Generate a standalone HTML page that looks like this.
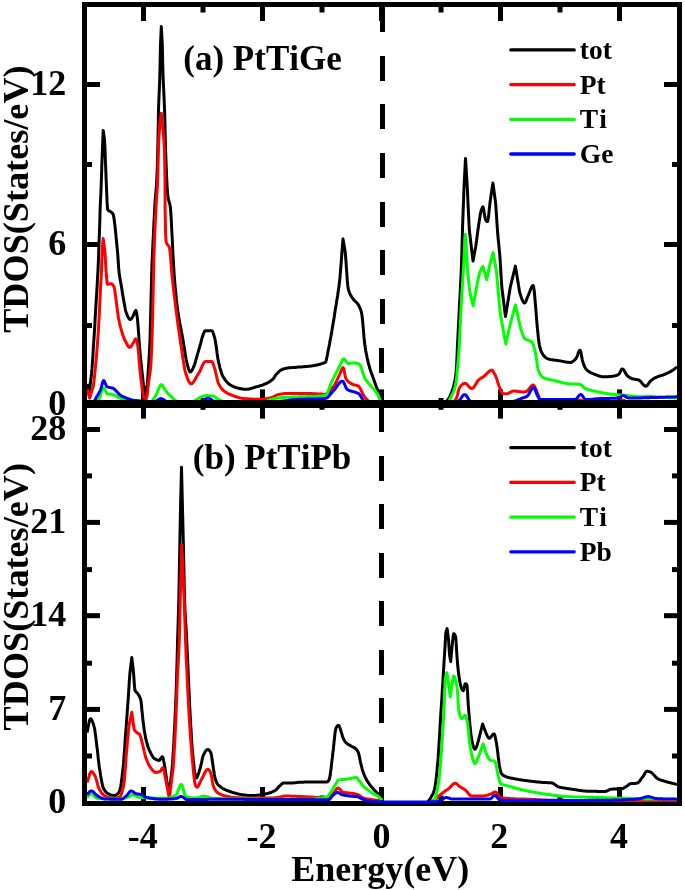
<!DOCTYPE html>
<html><head><meta charset="utf-8"><style>html,body{margin:0;padding:0;background:#fff;overflow:hidden;width:685px;height:890px;}svg{display:block;will-change:transform;}</style></head>
<body><svg width="685" height="890" viewBox="0 0 685 890">
<rect width="685" height="890" fill="#fff"/>
<defs><clipPath id="ca"><rect x="87" y="7" width="590" height="395"/></clipPath><clipPath id="cb"><rect x="87" y="405" width="590" height="401"/></clipPath></defs>
<rect x="141.0" y="7" width="5.00" height="14.00" fill="#000"/>
<rect x="141.0" y="389.4" width="5.00" height="12.60" fill="#000"/>
<rect x="200.5" y="7" width="5.00" height="5.50" fill="#000"/>
<rect x="200.5" y="398" width="5.00" height="4.00" fill="#000"/>
<rect x="260.0" y="7" width="5.00" height="14.00" fill="#000"/>
<rect x="260.0" y="389.4" width="5.00" height="12.60" fill="#000"/>
<rect x="319.5" y="7" width="5.00" height="5.50" fill="#000"/>
<rect x="319.5" y="398" width="5.00" height="4.00" fill="#000"/>
<rect x="379.0" y="7" width="5.00" height="14.00" fill="#000"/>
<rect x="379.0" y="389.4" width="5.00" height="12.60" fill="#000"/>
<rect x="438.5" y="7" width="5.00" height="5.50" fill="#000"/>
<rect x="438.5" y="398" width="5.00" height="4.00" fill="#000"/>
<rect x="498.0" y="7" width="5.00" height="14.00" fill="#000"/>
<rect x="498.0" y="389.4" width="5.00" height="12.60" fill="#000"/>
<rect x="557.5" y="7" width="5.00" height="5.50" fill="#000"/>
<rect x="557.5" y="398" width="5.00" height="4.00" fill="#000"/>
<rect x="617.0" y="7" width="5.00" height="14.00" fill="#000"/>
<rect x="617.0" y="389.4" width="5.00" height="12.60" fill="#000"/>
<rect x="87" y="323.0" width="5.00" height="5.00" fill="#000"/>
<rect x="672" y="323.0" width="5.00" height="5.00" fill="#000"/>
<rect x="87" y="242.0" width="13.00" height="5.00" fill="#000"/>
<rect x="664" y="242.0" width="13.00" height="5.00" fill="#000"/>
<rect x="87" y="162.0" width="5.00" height="5.00" fill="#000"/>
<rect x="672" y="162.0" width="5.00" height="5.00" fill="#000"/>
<rect x="87" y="82.0" width="13.00" height="5.00" fill="#000"/>
<rect x="664" y="82.0" width="13.00" height="5.00" fill="#000"/>
<rect x="380" y="7" width="5.00" height="25.00" fill="#000"/>
<rect x="380" y="56" width="5.00" height="25.00" fill="#000"/>
<rect x="380" y="104" width="5.00" height="25.00" fill="#000"/>
<rect x="380" y="153" width="5.00" height="25.00" fill="#000"/>
<rect x="380" y="202" width="5.00" height="25.00" fill="#000"/>
<rect x="380" y="250" width="5.00" height="25.00" fill="#000"/>
<rect x="380" y="299" width="5.00" height="25.00" fill="#000"/>
<rect x="379" y="348" width="5.00" height="25.00" fill="#000"/>
<rect x="379" y="396" width="5.00" height="6.00" fill="#000"/>
<polyline points="87.0,384.0 89.3,392.0 91.5,374.0 92.0,368.7 92.4,362.6 92.9,355.8 93.3,348.7 93.8,341.6 94.3,333.9 94.8,325.8 95.2,317.5 95.7,309.1 96.2,300.8 96.7,293.4 97.1,286.3 97.5,278.7 98.0,270.0 98.5,259.0 98.9,246.3 99.4,233.0 99.8,221.7 100.1,209.9 100.5,200.0 101.0,190.8 101.5,176.0 102.0,160.0 103.2,130.4 104.5,140.0 104.9,146.5 105.2,155.9 105.6,165.5 106.1,178.5 106.6,190.8 107.1,202.6 107.6,209.4 108.0,210.1 108.5,210.5 108.9,210.8 109.4,211.0 109.8,211.2 110.3,211.5 110.7,211.8 111.2,212.2 111.7,212.5 112.1,212.9 112.6,213.5 113.1,214.2 113.5,215.5 113.9,217.8 114.3,220.6 114.7,223.6 115.1,227.0 115.5,230.9 115.9,235.2 116.3,239.4 116.8,244.3 117.3,249.4 117.8,255.1 118.3,262.9 118.8,270.0 119.3,274.0 119.8,277.2 120.2,279.9 120.7,282.4 121.2,285.2 121.7,288.3 122.2,291.4 122.7,294.5 123.2,297.5 123.7,300.3 124.2,303.1 124.7,305.9 125.2,308.6 125.7,310.8 126.2,312.5 126.7,313.7 127.1,314.8 127.6,315.9 128.0,316.9 128.5,317.8 128.9,318.5 129.4,319.0 129.8,319.4 130.3,319.5 130.8,319.3 131.3,318.8 131.8,318.1 132.3,317.3 132.8,316.4 133.3,315.5 133.8,314.5 134.3,313.1 134.8,311.8 135.3,310.8 135.8,310.4 136.2,311.1 136.6,313.0 137.0,315.6 137.4,318.5 137.9,323.9 138.4,330.7 138.9,337.5 139.4,344.5 139.9,350.9 140.4,356.0 140.8,360.6 141.3,365.0 141.8,369.3 142.2,373.6 142.7,377.7 143.1,381.6 143.6,385.0 145.5,396.0 147.2,385.0 147.7,379.6 148.1,372.5 148.6,365.0 149.1,357.8 149.5,350.1 150.0,340.0 150.5,321.5 151.0,300.0 151.4,286.2 151.7,273.1 152.1,262.0 152.6,251.1 153.0,242.0 153.5,232.8 153.9,223.4 154.4,214.1 154.8,205.9 155.2,199.8 155.6,194.8 156.1,190.1 156.5,184.5 156.9,177.2 157.3,167.9 157.6,155.3 158.0,140.0 158.5,110.0 158.9,99.1 159.3,90.0 159.7,79.9 160.0,68.0 160.5,45.0 161.3,26.5 162.3,45.0 162.8,68.0 163.2,80.0 163.7,90.0 164.2,101.1 164.7,114.0 165.0,126.7 165.3,140.0 165.7,153.0 166.1,163.7 166.5,173.8 166.9,183.2 167.4,190.8 167.8,195.8 168.2,198.5 168.7,200.4 169.1,201.7 169.5,203.1 170.0,204.9 170.4,207.6 170.8,212.1 171.2,219.0 171.6,226.9 172.0,234.6 172.5,243.7 172.9,253.3 173.4,262.0 173.8,268.5 174.2,274.5 174.6,280.0 175.0,285.0 175.5,290.4 176.0,295.4 176.4,300.0 176.9,304.2 177.4,308.0 177.9,311.4 178.4,314.6 178.8,317.5 179.3,320.3 179.8,323.0 180.3,325.5 180.8,328.0 181.3,330.5 181.7,333.0 182.2,335.6 182.7,338.3 183.2,341.3 183.7,344.4 184.2,347.6 184.7,350.8 185.2,354.0 185.7,356.9 186.2,359.6 186.7,362.0 187.2,364.0 187.6,365.6 188.1,367.2 188.5,368.7 189.0,370.0 189.4,371.0 189.9,371.7 190.3,372.0 190.8,371.9 191.2,371.4 191.7,370.8 192.2,370.0 192.6,369.1 193.1,368.1 193.5,367.0 194.0,366.0 194.5,364.7 195.0,363.2 195.5,361.4 196.0,359.6 196.5,357.8 197.0,356.0 197.5,354.3 198.0,352.6 198.5,350.9 199.0,349.2 199.5,347.5 200.0,345.7 200.5,344.0 201.0,342.1 201.5,340.2 202.0,338.2 202.5,336.5 203.0,335.0 203.4,333.8 203.9,332.7 204.3,331.7 204.8,331.0 205.2,330.7 205.7,330.7 206.1,330.7 206.6,330.7 207.1,330.7 207.6,330.7 208.0,330.7 208.5,330.7 209.0,330.7 209.4,330.7 209.9,330.7 210.4,330.7 210.9,330.7 211.3,330.7 211.8,330.7 212.3,331.0 212.8,331.8 213.2,333.1 213.7,334.6 214.2,336.3 214.7,338.0 215.2,340.0 215.6,342.7 216.1,345.8 216.6,349.2 217.0,352.7 217.5,356.0 217.9,358.9 218.4,361.3 218.9,363.4 219.4,365.4 219.8,367.3 220.3,369.1 220.8,370.8 221.3,372.3 221.7,373.7 222.2,374.9 222.7,375.9 223.2,376.8 223.7,377.6 224.2,378.4 224.6,379.1 225.1,379.9 225.6,380.5 226.1,381.1 226.6,381.7 227.1,382.3 227.6,382.8 228.1,383.2 228.5,383.6 229.0,384.0 229.5,384.4 230.0,384.7 230.5,385.0 231.0,385.3 231.5,385.6 232.0,385.8 232.4,386.1 232.9,386.3 233.4,386.5 233.9,386.8 234.4,387.0 234.9,387.2 235.4,387.3 235.9,387.5 236.4,387.7 236.8,387.8 237.3,388.0 237.8,388.1 238.3,388.2 238.8,388.3 239.3,388.4 239.8,388.5 240.3,388.6 240.7,388.7 241.2,388.8 241.7,388.9 242.2,388.9 242.7,389.0 243.2,389.1 243.7,389.2 244.2,389.2 244.6,389.2 245.1,389.3 245.6,389.3 246.1,389.3 246.6,389.3 247.1,389.3 247.6,389.2 248.0,389.2 248.5,389.1 249.0,389.0 249.5,388.9 250.0,388.8 250.5,388.7 251.0,388.5 251.4,388.4 251.9,388.2 252.4,388.1 252.9,387.9 253.4,387.8 253.9,387.6 254.4,387.5 254.8,387.3 255.3,387.2 255.8,387.0 256.3,386.9 256.8,386.8 257.3,386.6 257.8,386.5 258.2,386.4 258.7,386.2 259.2,386.1 259.7,385.9 260.2,385.8 260.6,385.6 261.1,385.5 261.6,385.3 262.1,385.1 262.6,385.0 263.1,384.8 263.6,384.6 264.0,384.4 264.5,384.2 265.0,384.0 265.5,383.8 266.0,383.6 266.5,383.3 267.0,383.1 267.5,382.9 268.0,382.6 268.5,382.3 268.9,382.0 269.4,381.8 269.9,381.4 270.4,381.1 270.9,380.8 271.4,380.4 271.9,380.0 272.4,379.6 272.9,379.1 273.4,378.5 273.9,377.9 274.4,377.1 274.8,376.4 275.3,375.6 275.8,374.9 276.3,374.3 276.8,373.7 277.3,373.2 277.8,372.7 278.2,372.2 278.7,371.8 279.2,371.3 279.7,370.9 280.1,370.6 280.6,370.2 281.1,370.0 281.6,369.8 282.1,369.6 282.6,369.4 283.0,369.2 283.5,369.0 284.0,368.9 284.5,368.7 285.0,368.6 285.5,368.4 286.0,368.3 286.5,368.2 286.9,368.1 287.4,368.0 287.9,368.0 288.4,367.9 288.9,367.8 289.3,367.8 289.8,367.8 290.3,367.7 290.8,367.7 291.2,367.7 291.7,367.6 292.2,367.6 292.6,367.6 293.1,367.5 293.6,367.5 294.1,367.5 294.5,367.4 295.0,367.4 295.5,367.4 296.0,367.3 296.5,367.3 297.0,367.2 297.5,367.2 298.0,367.1 298.5,367.1 299.0,367.1 299.5,367.0 300.0,367.0 300.5,367.0 301.0,366.9 301.5,366.9 302.0,366.9 302.5,366.8 302.9,366.8 303.4,366.7 303.9,366.7 304.4,366.7 304.9,366.6 305.4,366.6 305.9,366.6 306.4,366.5 306.9,366.5 307.4,366.4 307.9,366.4 308.4,366.3 308.9,366.3 309.4,366.2 309.9,366.2 310.4,366.1 310.9,366.0 311.4,366.0 311.9,365.9 312.4,365.8 312.9,365.8 313.4,365.7 313.9,365.6 314.4,365.5 314.9,365.4 315.4,365.3 315.9,365.3 316.4,365.2 316.9,365.0 317.4,364.9 317.8,364.8 318.3,364.7 318.8,364.6 319.3,364.4 319.8,364.3 320.3,364.2 320.8,364.0 321.3,363.9 321.8,363.7 322.3,363.5 322.8,363.4 323.3,363.2 323.8,363.0 324.3,362.8 324.8,362.6 325.3,362.4 325.8,361.8 326.2,360.4 326.7,358.5 327.1,356.2 327.6,353.7 328.0,351.2 328.5,348.9 329.0,346.6 329.5,344.1 329.9,341.6 330.4,339.1 330.9,336.4 331.4,333.7 331.9,330.9 332.3,328.1 332.8,325.2 333.3,322.3 333.8,319.4 334.3,316.4 334.7,313.4 335.2,310.3 335.7,307.3 336.2,304.4 336.6,301.5 337.1,298.7 337.6,295.8 338.0,292.8 338.5,289.6 339.0,286.1 339.4,282.3 339.9,278.2 340.3,273.7 340.7,268.4 341.2,262.6 341.6,256.7 342.0,251.2 343.0,239.1 345.1,251.2 345.5,255.5 346.0,261.4 346.4,268.0 346.9,274.7 347.3,280.8 347.8,285.7 348.2,288.6 348.7,290.3 349.1,291.7 349.6,293.0 350.1,294.1 350.5,295.0 351.0,295.8 351.5,296.6 351.9,297.3 352.4,298.0 352.9,298.7 353.4,299.3 353.8,299.9 354.3,300.4 354.8,300.8 355.3,301.3 355.7,301.7 356.2,302.2 356.7,302.7 357.2,303.2 357.6,303.8 358.1,304.4 358.6,305.2 359.0,306.0 359.5,306.9 359.9,307.9 360.4,309.0 360.8,310.3 361.3,311.8 361.7,313.6 362.1,316.3 362.6,320.5 363.0,325.5 363.5,330.9 363.9,336.3 364.4,341.0 364.8,344.7 365.3,347.7 365.7,350.5 366.2,353.1 366.7,355.5 367.1,357.8 367.6,359.9 368.1,361.9 368.5,363.7 369.0,365.5 369.5,367.2 369.9,368.7 370.4,370.2 370.9,371.5 371.3,372.8 371.8,374.1 372.3,375.4 372.7,376.7 373.2,378.0 373.7,379.3 374.1,380.7 374.6,381.9 375.1,383.2 375.6,384.5 376.0,385.7 376.5,387.0 377.0,388.3 377.5,389.7 377.9,391.1 378.4,392.6 378.8,394.0 379.3,395.6 379.7,397.2 380.1,398.8 380.6,400.4 381.0,402.0" fill="none" stroke="#000" stroke-width="3" stroke-linejoin="round" stroke-linecap="butt" clip-path="url(#ca)"/>
<polyline points="441.0,403.0 441.5,402.8 441.9,402.7 442.4,402.6 442.9,402.4 443.3,402.3 443.8,402.2 444.3,402.0 444.7,401.9 445.2,401.7 445.7,401.5 446.1,401.3 446.6,401.0 447.1,400.6 447.6,400.1 448.1,399.5 448.6,398.7 449.1,397.9 449.6,396.9 450.1,395.9 450.6,394.7 451.1,393.5 451.6,392.2 452.1,390.8 452.6,389.4 453.1,387.9 453.6,386.2 454.1,384.2 454.6,381.9 455.1,379.2 455.6,375.9 456.1,372.0 456.6,366.1 457.0,357.1 457.4,346.9 457.9,337.1 458.3,328.5 458.8,319.7 459.2,310.9 459.6,302.3 460.1,294.0 460.5,286.1 460.9,277.7 461.4,267.4 461.8,254.3 462.2,240.0 462.6,225.7 463.1,211.8 463.6,198.9 464.0,187.5 465.5,158.4 467.3,187.5 467.7,196.0 468.1,205.6 468.6,215.3 469.0,224.0 469.4,230.6 473.0,261.1 475.7,246.8 476.1,243.8 476.6,240.5 477.0,237.1 477.5,233.5 477.9,230.1 478.4,227.0 478.8,223.9 479.3,220.8 479.8,217.7 480.2,214.9 480.7,212.6 481.1,210.8 481.6,209.4 482.0,208.2 482.4,207.2 482.9,206.9 483.3,207.8 483.8,209.9 484.2,212.8 484.7,215.8 485.2,218.3 485.6,219.8 486.1,220.5 486.5,221.1 486.9,221.5 487.4,221.6 487.8,220.6 488.3,217.9 488.8,214.1 489.2,209.8 489.7,205.6 490.1,201.9 492.9,183.0 495.5,202.0 496.0,208.0 496.5,215.6 497.0,223.5 497.5,230.6 497.9,236.0 498.4,240.9 498.9,245.6 499.3,250.3 499.8,255.4 500.2,261.0 500.6,267.5 501.0,275.0 501.5,282.2 501.9,288.0 505.5,316.5 510.3,287.0 515.4,266.1 519.6,292.0 520.1,293.6 520.6,295.2 521.1,296.8 521.6,298.2 522.1,299.6 522.6,300.7 523.1,301.7 523.6,302.4 524.1,302.8 524.6,303.0 525.1,302.7 525.6,302.0 526.1,301.0 526.5,299.7 527.0,298.4 527.5,297.1 528.0,296.0 528.5,295.0 528.9,293.8 529.4,292.6 529.9,291.3 530.4,290.0 530.8,288.8 531.3,287.8 531.8,286.8 532.3,286.1 532.7,285.7 533.2,285.5 533.7,287.0 534.2,290.8 534.7,296.0 535.2,301.9 535.7,307.5 536.1,312.4 536.5,318.0 537.0,323.5 537.4,328.4 537.9,333.0 538.3,337.4 538.8,341.3 539.2,344.1 539.6,346.1 540.1,348.0 540.5,349.5 540.9,350.9 541.4,352.0 541.8,352.8 542.3,353.6 542.7,354.3 543.2,354.9 543.7,355.6 544.1,356.1 544.6,356.6 545.1,357.1 545.6,357.5 546.0,357.9 546.5,358.2 547.0,358.5 547.4,358.7 547.9,358.9 548.4,359.0 548.9,359.2 549.4,359.3 549.9,359.4 550.4,359.5 550.9,359.6 551.4,359.7 551.9,359.8 552.4,359.8 552.9,359.9 553.3,360.0 553.8,360.0 554.3,360.1 554.8,360.2 555.3,360.2 555.8,360.3 556.3,360.3 556.8,360.4 557.3,360.5 557.8,360.5 558.3,360.6 558.8,360.7 559.3,360.8 559.8,360.8 560.3,360.9 560.7,361.0 561.2,361.1 561.7,361.2 562.2,361.3 562.7,361.4 563.2,361.5 563.7,361.6 564.2,361.7 564.6,361.8 565.1,361.9 565.6,361.9 566.1,362.0 566.6,362.1 567.1,362.2 567.6,362.2 568.1,362.3 568.5,362.3 569.0,362.4 569.5,362.4 570.0,362.4 570.5,362.4 571.0,362.4 571.4,362.2 571.9,362.0 572.4,361.8 572.9,361.5 573.3,361.1 573.8,360.7 574.3,360.3 574.8,359.8 575.2,359.4 575.7,358.9 576.2,358.2 576.7,357.2 577.2,356.0 577.7,354.7 578.1,353.3 578.6,352.1 579.1,351.1 579.6,350.4 580.1,350.2 580.5,350.9 581.0,352.6 581.4,354.9 581.8,357.4 582.3,359.8 582.7,361.5 583.2,363.0 583.7,364.4 584.2,365.7 584.7,366.8 585.2,367.8 585.7,368.7 586.2,369.3 586.7,369.8 587.2,370.3 587.7,370.7 588.2,371.1 588.7,371.4 589.2,371.8 589.7,372.1 590.2,372.3 590.7,372.6 591.2,372.8 591.7,373.1 592.2,373.3 592.7,373.5 593.2,373.7 593.7,373.9 594.2,374.1 594.7,374.3 595.2,374.5 595.7,374.7 596.2,374.9 596.7,375.1 597.2,375.3 597.7,375.5 598.2,375.7 598.6,375.9 599.1,376.0 599.6,376.2 600.1,376.3 600.6,376.4 601.1,376.5 601.6,376.6 602.1,376.7 602.6,376.8 603.1,376.8 603.6,376.8 604.1,376.8 604.6,376.8 605.0,376.8 605.5,376.8 606.0,376.8 606.5,376.7 607.0,376.7 607.5,376.7 608.0,376.7 608.4,376.6 608.9,376.6 609.4,376.6 609.9,376.5 610.4,376.5 610.8,376.4 611.3,376.4 611.8,376.3 612.3,376.3 612.8,376.2 613.3,376.2 613.8,376.1 614.2,376.0 614.7,375.9 615.2,375.8 615.7,375.6 616.2,375.5 616.7,375.3 617.1,375.1 617.6,374.9 618.1,374.6 618.6,374.4 619.1,374.0 619.5,373.3 620.0,372.4 620.5,371.4 620.9,370.5 621.4,369.7 621.8,369.1 622.3,368.9 622.8,369.1 623.3,369.5 623.8,370.1 624.3,370.9 624.8,371.8 625.3,372.7 625.8,373.6 626.3,374.4 626.8,375.2 627.3,375.7 627.8,376.1 628.3,376.5 628.8,376.9 629.3,377.3 629.8,377.6 630.3,377.9 630.8,378.2 631.3,378.4 631.8,378.6 632.3,378.8 632.8,378.9 633.3,379.0 633.7,379.1 634.2,379.2 634.7,379.3 635.2,379.4 635.6,379.4 636.1,379.5 636.6,379.6 637.1,379.7 637.5,379.7 638.0,379.9 638.5,380.0 639.0,380.2 639.5,380.5 640.0,380.9 640.5,381.4 641.0,381.9 641.5,382.5 642.0,383.1 642.4,383.7 642.9,384.2 643.4,384.8 643.9,385.2 644.4,385.6 644.9,385.9 645.4,386.1 645.9,386.2 646.4,386.1 646.9,385.7 647.4,385.2 647.9,384.6 648.4,383.9 648.9,383.2 649.4,382.4 649.9,381.7 650.4,381.1 650.9,380.6 651.4,380.2 651.9,379.8 652.4,379.5 652.9,379.2 653.3,378.8 653.8,378.5 654.3,378.3 654.8,378.0 655.3,377.7 655.8,377.5 656.3,377.3 656.8,377.1 657.2,376.9 657.7,376.7 658.2,376.5 658.7,376.4 659.2,376.2 659.7,376.0 660.1,375.9 660.6,375.7 661.1,375.6 661.6,375.4 662.1,375.3 662.6,375.1 663.0,375.0 663.5,374.8 664.0,374.6 664.5,374.4 665.0,374.2 665.5,374.0 666.0,373.8 666.5,373.5 667.0,373.3 667.5,373.1 668.0,372.8 668.5,372.6 669.0,372.4 669.5,372.1 670.0,371.8 670.5,371.6 671.0,371.3 671.5,371.0 672.0,370.7 672.5,370.4 673.0,370.0 673.5,369.7 674.0,369.3 674.5,368.9 675.0,368.5 675.5,368.2 676.0,367.8 676.5,367.4 677.0,367.0" fill="none" stroke="#000" stroke-width="3" stroke-linejoin="round" stroke-linecap="butt" clip-path="url(#ca)"/>
<polyline points="87.0,389.0 89.7,398.0 93.0,387.2 93.5,384.6 93.9,381.4 94.4,377.6 94.8,373.3 95.3,368.7 95.7,363.9 96.2,359.0 96.7,353.4 97.2,347.2 97.7,340.5 98.2,333.2 98.7,325.3 99.1,317.9 99.5,309.6 99.9,300.9 100.3,292.6 100.7,284.7 101.2,277.1 101.6,268.2 101.9,257.4 102.3,248.0 103.2,238.6 104.8,250.4 105.2,256.2 105.6,263.7 106.0,270.0 106.5,276.4 107.0,281.9 107.5,284.2 108.0,284.2 108.4,284.1 108.8,284.0 109.3,283.9 109.8,283.9 110.2,283.8 110.6,283.7 111.1,283.7 111.6,283.8 112.1,284.1 112.6,284.7 113.1,285.4 113.6,286.2 114.1,287.2 114.6,289.2 115.1,292.5 115.6,296.5 116.1,300.3 116.6,304.1 117.1,308.2 117.6,312.1 118.1,315.5 118.5,318.0 119.0,320.3 119.4,322.5 119.9,324.5 120.3,326.4 120.8,328.1 121.2,329.7 121.7,331.4 122.2,333.0 122.7,334.6 123.2,336.0 123.7,337.4 124.2,338.6 124.7,339.8 125.2,340.8 125.7,341.7 126.1,342.6 126.6,343.5 127.0,344.4 127.5,345.2 128.0,345.9 128.4,346.5 128.9,347.0 129.3,347.3 129.8,347.4 130.3,347.2 130.8,346.8 131.3,346.1 131.8,345.3 132.3,344.5 132.8,343.6 133.3,342.8 133.8,341.9 134.3,340.9 134.8,339.9 135.3,339.1 135.8,338.8 136.2,339.2 136.6,340.4 137.1,342.2 137.5,344.4 137.9,346.8 138.3,350.2 138.7,355.0 139.1,360.3 139.5,365.0 139.9,369.4 140.4,373.7 140.8,377.7 141.3,381.5 141.7,385.0 142.1,388.3 142.6,391.5 143.0,394.2 143.4,396.0 143.9,397.3 144.4,398.4 144.8,399.2 145.3,399.5 145.7,399.2 146.2,398.5 146.6,397.4 147.0,396.0 147.4,393.3 147.9,389.1 148.3,385.0 148.8,381.3 149.3,377.9 149.8,374.5 150.3,370.3 150.8,365.0 151.2,358.8 151.6,350.3 152.0,340.0 152.5,322.0 153.0,300.0 153.4,280.0 153.8,261.5 154.3,245.7 154.8,232.8 155.2,223.6 155.6,215.3 156.0,207.6 156.4,200.6 156.8,194.6 157.3,187.9 157.7,178.9 158.1,162.9 158.5,146.9 158.9,137.5 159.4,130.4 159.8,125.0 161.3,113.3 163.0,130.0 163.5,135.4 164.0,141.8 164.5,151.9 165.0,180.6 165.1,209.3 165.6,234.0 166.1,241.3 166.6,243.0 167.1,244.1 167.6,244.8 168.0,245.3 168.5,245.8 169.0,246.7 169.5,248.0 170.0,251.1 170.5,256.4 171.0,262.8 171.5,269.4 172.0,275.0 172.5,279.5 172.9,283.9 173.4,288.2 173.9,292.4 174.4,296.4 174.9,300.4 175.3,304.2 175.8,308.0 176.3,311.8 176.8,315.5 177.2,319.1 177.7,322.7 178.2,326.2 178.7,329.6 179.2,333.0 179.7,336.3 180.1,339.6 180.6,342.8 181.1,345.9 181.6,349.0 182.0,352.1 182.5,355.3 182.9,358.5 183.4,361.5 183.9,364.4 184.3,367.1 184.8,369.5 185.2,371.6 185.7,373.2 186.2,374.7 186.7,376.1 187.1,377.4 187.6,378.7 188.1,379.9 188.6,381.0 189.1,382.0 189.6,382.7 190.0,383.3 190.5,383.7 191.0,383.8 191.5,383.7 192.0,383.5 192.5,383.1 192.9,382.6 193.4,382.0 193.9,381.3 194.4,380.5 194.9,379.7 195.4,378.9 195.9,378.0 196.3,377.1 196.8,376.3 197.3,375.5 197.8,374.7 198.2,374.0 198.7,373.3 199.1,372.6 199.6,371.8 200.0,371.0 200.5,370.0 200.9,368.9 201.4,367.7 201.9,366.6 202.4,365.4 202.9,364.4 203.3,363.5 203.8,362.8 204.3,362.3 204.7,361.8 205.2,361.6 205.7,361.6 206.1,361.6 206.6,361.6 207.1,361.6 207.6,361.6 208.0,361.6 208.5,361.6 209.0,361.6 209.4,361.6 209.9,361.6 210.4,361.6 210.9,361.6 211.3,361.6 211.8,361.6 212.3,361.9 212.8,362.8 213.2,364.0 213.7,365.5 214.2,367.1 214.7,368.6 215.2,370.2 215.6,372.1 216.1,374.1 216.6,376.3 217.0,378.4 217.5,380.3 217.9,382.0 218.4,383.2 218.9,384.2 219.4,385.1 219.8,386.0 220.3,386.8 220.8,387.5 221.3,388.2 221.8,388.8 222.3,389.4 222.8,389.9 223.2,390.4 223.7,390.8 224.2,391.2 224.7,391.6 225.2,391.9 225.7,392.2 226.2,392.5 226.6,392.8 227.1,393.1 227.6,393.4 228.1,393.6 228.6,393.8 229.1,394.1 229.6,394.3 230.1,394.5 230.6,394.7 231.0,394.9 231.5,395.1 232.0,395.2 232.5,395.4 233.0,395.6 233.5,395.8 234.0,396.0 234.5,396.1 234.9,396.3 235.4,396.5 235.9,396.7 236.4,396.8 236.9,397.0 237.4,397.2 237.9,397.3 238.3,397.5 238.8,397.6 239.3,397.8 239.8,397.9 240.3,398.0 240.8,398.1 241.3,398.2 241.7,398.3 242.2,398.4 242.7,398.5 243.2,398.5 243.7,398.5 244.2,398.6 244.7,398.6 245.2,398.7 245.7,398.7 246.2,398.7 246.7,398.8 247.2,398.8 247.7,398.8 248.2,398.9 248.7,398.9 249.2,398.9 249.7,399.0 250.2,399.0 250.7,399.0 251.2,399.0 251.7,399.1 252.2,399.1 252.7,399.1 253.2,399.1 253.7,399.2 254.2,399.2 254.7,399.2 255.2,399.2 255.7,399.2 256.2,399.2 256.7,399.3 257.2,399.3 257.7,399.3 258.2,399.3 258.7,399.3 259.2,399.3 259.7,399.3 260.2,399.3 260.7,399.3 261.2,399.3 261.7,399.3 262.2,399.3 262.6,399.2 263.1,399.2 263.6,399.1 264.1,399.1 264.6,399.0 265.1,399.0 265.6,398.9 266.0,398.8 266.5,398.7 267.0,398.6 267.5,398.5 268.0,398.4 268.5,398.3 269.0,398.2 269.4,398.1 269.9,398.0 270.4,397.9 270.9,397.8 271.4,397.7 271.9,397.5 272.4,397.3 272.8,397.1 273.3,396.8 273.8,396.6 274.3,396.3 274.8,396.0 275.3,395.8 275.8,395.5 276.3,395.3 276.7,395.1 277.2,394.9 277.7,394.7 278.2,394.6 278.7,394.5 279.2,394.4 279.7,394.3 280.1,394.2 280.6,394.2 281.1,394.1 281.6,394.0 282.1,393.9 282.6,393.9 283.1,393.8 283.5,393.7 284.0,393.7 284.5,393.6 285.0,393.6 285.5,393.5 286.0,393.5 286.5,393.5 286.9,393.4 287.4,393.4 287.9,393.4 288.4,393.4 288.9,393.4 289.4,393.4 289.9,393.4 290.4,393.4 290.9,393.4 291.4,393.4 291.9,393.4 292.4,393.4 292.9,393.4 293.4,393.4 293.9,393.4 294.4,393.4 294.9,393.4 295.4,393.4 295.9,393.4 296.4,393.4 296.9,393.4 297.4,393.4 297.9,393.4 298.4,393.4 298.9,393.4 299.4,393.5 299.8,393.5 300.3,393.5 300.8,393.5 301.3,393.5 301.8,393.5 302.3,393.5 302.8,393.5 303.3,393.5 303.8,393.5 304.3,393.5 304.8,393.5 305.3,393.5 305.8,393.5 306.3,393.5 306.8,393.5 307.3,393.5 307.8,393.6 308.3,393.6 308.8,393.6 309.3,393.6 309.8,393.6 310.3,393.6 310.8,393.6 311.3,393.6 311.8,393.6 312.3,393.6 312.8,393.7 313.3,393.7 313.8,393.7 314.3,393.7 314.8,393.7 315.3,393.8 315.8,393.8 316.3,393.8 316.8,393.9 317.3,393.9 317.8,393.9 318.3,393.9 318.8,394.0 319.3,394.0 319.8,394.0 320.3,394.1 320.8,394.1 321.3,394.1 321.8,394.1 322.3,394.1 322.8,394.2 323.3,394.2 323.8,394.2 324.3,394.2 324.8,394.2 325.3,394.2 325.8,394.2 326.3,394.0 326.8,393.8 327.3,393.6 327.8,393.2 328.3,392.8 328.8,392.4 329.3,391.9 329.7,391.3 330.2,390.8 330.7,390.2 331.2,389.6 331.7,388.9 332.2,388.3 332.7,387.6 333.2,387.0 333.7,386.3 334.2,385.6 334.7,384.9 335.1,384.0 335.6,383.1 336.1,382.1 336.6,381.1 337.0,380.1 337.5,379.0 338.0,377.9 338.5,376.9 338.9,375.8 339.4,374.8 339.9,373.8 340.3,372.8 340.8,371.7 341.2,370.5 341.7,369.4 342.1,368.5 342.6,367.8 343.0,367.6 343.4,368.2 343.9,369.6 344.3,371.6 344.8,373.9 345.2,376.1 345.7,377.9 346.1,379.0 346.6,379.7 347.1,380.3 347.6,380.8 348.0,381.3 348.5,381.8 349.0,382.2 349.5,382.5 350.0,382.9 350.5,383.2 350.9,383.5 351.4,383.7 351.9,384.0 352.4,384.2 352.9,384.4 353.4,384.6 353.8,384.7 354.3,384.9 354.8,385.0 355.3,385.1 355.7,385.2 356.2,385.4 356.7,385.5 357.2,385.6 357.6,385.8 358.1,386.0 358.6,386.3 359.1,386.7 359.5,387.3 360.0,388.0 360.5,388.9 361.0,389.9 361.4,391.0 361.9,392.0 362.4,393.1 362.9,394.1 363.3,394.9 363.8,395.7 364.3,396.4 364.8,397.0 365.2,397.6 365.7,398.2 366.2,398.7 366.7,399.3 367.1,399.8 367.6,400.3 368.1,400.9 368.6,401.4 369.0,401.9 369.5,402.4 370.0,403.0" fill="none" stroke="#f00" stroke-width="3" stroke-linejoin="round" stroke-linecap="butt" clip-path="url(#ca)"/>
<polyline points="452.0,403.0 452.5,402.6 452.9,402.2 453.4,401.8 453.8,401.5 454.3,401.1 454.7,400.7 455.2,400.2 455.6,399.6 456.1,399.0 456.6,397.9 457.1,396.2 457.6,394.3 458.1,392.2 458.6,390.2 459.1,388.6 459.6,387.6 460.1,387.0 460.5,386.4 461.0,385.8 461.5,385.3 462.0,384.8 462.4,384.4 462.9,384.0 463.4,383.7 463.9,383.5 464.3,383.3 464.8,383.3 465.3,383.4 465.8,383.6 466.3,383.9 466.8,384.3 467.3,384.8 467.8,385.3 468.3,385.9 468.8,386.5 469.3,387.0 469.8,387.5 470.3,387.9 470.8,388.2 471.3,388.4 471.8,388.5 472.3,388.4 472.8,388.1 473.3,387.7 473.8,387.1 474.3,386.5 474.8,385.7 475.3,384.9 475.8,384.1 476.3,383.2 476.8,382.4 477.3,381.6 477.8,380.9 478.3,380.3 478.8,379.8 479.3,379.4 479.7,379.1 480.2,378.7 480.7,378.4 481.2,378.1 481.6,377.8 482.1,377.5 482.6,377.2 483.1,376.9 483.5,376.6 484.0,376.3 484.5,375.9 485.0,375.5 485.5,375.0 485.9,374.6 486.4,374.1 486.9,373.5 487.4,373.0 487.9,372.5 488.4,372.1 488.9,371.6 489.4,371.2 489.9,370.9 490.3,370.6 490.8,370.4 491.3,370.2 491.8,370.2 492.3,370.4 492.8,370.8 493.3,371.5 493.8,372.4 494.3,373.4 494.8,374.4 495.3,375.4 495.8,376.5 496.3,377.7 496.8,379.1 497.3,380.6 497.7,382.2 498.2,383.7 498.7,385.1 499.2,386.5 499.7,387.6 500.2,388.7 500.7,389.9 501.2,391.0 501.7,392.1 502.2,392.9 502.7,393.5 503.2,393.7 503.7,393.7 504.2,393.7 504.7,393.7 505.2,393.7 505.7,393.7 506.2,393.7 506.7,393.7 507.2,393.7 507.7,393.6 508.2,393.4 508.7,393.2 509.2,392.9 509.7,392.7 510.1,392.4 510.6,392.1 511.1,391.9 511.6,391.6 512.1,391.4 512.6,391.2 513.1,391.1 513.6,391.1 514.1,391.1 514.6,391.1 515.1,391.1 515.6,391.2 516.1,391.2 516.6,391.3 517.1,391.3 517.6,391.4 518.1,391.5 518.6,391.5 519.1,391.6 519.6,391.6 520.1,391.7 520.6,391.8 521.1,391.8 521.6,391.9 522.1,391.9 522.6,392.0 523.1,392.0 523.6,392.0 524.1,392.0 524.6,392.0 525.1,391.9 525.5,391.7 526.0,391.5 526.5,391.3 527.0,391.1 527.5,390.8 527.9,390.4 528.4,389.9 528.9,389.3 529.3,388.7 529.8,388.0 530.3,387.4 530.8,386.8 531.2,386.2 531.7,385.7 532.2,385.3 532.6,385.1 533.1,385.0 533.6,385.2 534.1,385.7 534.5,386.4 535.0,387.3 535.5,388.4 536.0,389.6 536.4,390.7 536.9,391.9 537.4,392.9 537.9,393.9 538.3,395.2 538.8,396.5 539.2,397.8 539.6,399.0 540.1,400.0 540.5,400.7 541.0,401.0 541.5,401.1 542.0,401.1 542.5,401.2 543.0,401.2 543.5,401.3 544.0,401.3 544.5,401.4 545.0,401.4 545.5,401.5 546.0,401.5 546.5,401.6 547.0,401.6 547.5,401.6 548.0,401.7 548.5,401.7 549.0,401.7 549.5,401.8 550.0,401.8 550.5,401.8 551.0,401.8 551.5,401.9 552.0,401.9 552.5,401.9 553.0,401.9 553.5,401.9 554.0,401.9 554.5,401.9 555.0,402.0 555.5,402.0 556.0,402.0 556.5,402.0 557.0,402.0 557.5,402.0 558.0,402.0 558.5,402.0 559.0,402.0 559.5,402.0 560.0,402.0 560.5,402.0 561.0,402.0 561.5,402.0 562.0,402.0 562.5,402.0 563.0,402.0 563.5,402.0 564.0,402.0 564.5,402.0 565.0,401.9 565.5,401.9 566.0,401.9 566.5,401.9 567.0,401.9 567.5,401.9 568.0,401.9 568.5,401.8 569.0,401.8 569.5,401.8 570.0,401.8 570.5,401.8 571.0,401.7 571.5,401.7 572.0,401.7 572.5,401.7 573.0,401.6 573.5,401.6 574.0,401.6 574.5,401.5 575.0,401.5 575.5,401.4 576.0,401.3 576.5,401.1 577.0,400.9 577.5,400.7 578.0,400.5 578.5,400.3 579.0,400.1 579.5,400.0 580.0,400.0 580.5,400.1 581.0,400.2 581.5,400.4 582.0,400.7 582.5,401.0 583.0,401.3 583.5,401.6 584.0,401.8 584.5,401.9 585.0,402.0 585.5,402.0 586.0,402.0 586.5,402.0 587.0,402.0 587.5,402.0 588.0,402.0 588.5,402.0 589.0,402.0 589.5,402.0 590.0,402.0 590.5,402.0 591.0,402.0 591.5,402.0 592.0,402.0 592.5,402.0 593.0,402.0 593.5,402.0 594.0,402.0 594.5,402.0 595.0,402.0 595.5,402.0 596.0,402.0 596.5,402.0 597.0,402.0 597.5,402.0 598.0,402.0 598.5,402.0 599.0,402.0 599.5,402.0 600.0,402.0 600.5,402.0 601.0,402.0 601.5,402.0 602.0,402.0 602.5,402.0 603.0,402.0 603.5,402.0 604.0,402.0 604.5,402.0 605.0,402.0 605.5,402.0 606.0,402.0 606.5,402.0 607.0,402.0 607.5,402.0 608.0,402.0 608.5,402.0 609.0,402.0 609.5,402.0 610.0,402.0 610.5,402.0 611.0,402.0 611.5,402.0 612.0,402.0 612.5,402.0 613.0,402.0 613.5,402.0 614.0,402.0 614.5,402.0 615.0,402.0 615.5,402.0 616.0,402.0 616.5,402.0 617.0,402.0 617.5,402.0 618.0,402.0 618.5,402.0 619.0,401.8 619.5,401.6 620.0,401.4 620.5,401.1 621.0,400.9 621.5,400.7 622.0,400.5 622.5,400.3 623.0,400.3 623.5,400.3 624.0,400.5 624.5,400.7 625.0,400.9 625.5,401.1 626.0,401.4 626.5,401.6 627.0,401.8 627.5,402.0 628.0,402.0 628.5,402.0 629.0,402.0 629.5,402.0 630.0,402.0 630.5,402.0 631.0,402.0 631.5,402.0 632.0,402.0 632.5,402.0 633.0,402.0 633.5,402.0 634.0,402.0 634.5,402.0 635.0,402.0 635.5,402.0 636.0,402.0 636.5,402.0 637.0,402.0 637.5,402.0 638.0,402.0 638.5,402.0 639.0,402.0 639.5,402.0 640.0,402.0 640.5,402.0 641.0,402.0 641.5,402.0 642.0,402.0 642.5,402.0 643.0,402.0 643.5,402.0 644.0,402.0 644.5,402.0 645.0,402.0 645.5,402.0 646.0,402.0 646.5,402.0 647.0,402.0 647.5,402.0 648.0,402.0 648.5,402.0 649.0,402.0 649.5,402.0 650.0,402.0 650.5,402.0 651.0,402.0 651.5,402.0 652.0,402.0 652.5,402.0 653.0,402.0 653.5,402.0 654.0,402.0 654.5,402.0 655.0,402.0 655.5,402.0 656.0,402.0 656.5,402.0 657.0,402.0 657.5,402.0 658.0,402.0 658.5,402.0 659.0,402.0 659.5,402.0 660.0,402.0 660.5,402.0 661.0,402.0 661.5,402.0 662.0,402.0 662.5,402.0 663.0,402.0 663.5,402.0 664.0,402.0 664.5,402.0 665.0,402.0 665.5,402.0 666.0,402.0 666.5,402.0 667.0,402.0 667.5,402.0 668.0,402.0 668.5,402.0 669.0,402.0 669.5,402.0 670.0,402.0 670.5,402.0 671.0,402.0 671.5,402.0 672.0,402.0 672.5,402.0 673.0,402.0 673.5,402.0 674.0,402.0 674.5,402.0 675.0,402.0 675.5,402.0 676.0,402.0 676.5,402.0 677.0,402.0" fill="none" stroke="#f00" stroke-width="3" stroke-linejoin="round" stroke-linecap="butt" clip-path="url(#ca)"/>
<polyline points="87.0,403.0 87.5,402.9 88.0,402.9 88.5,402.9 89.0,402.8 89.5,402.8 90.0,402.7 90.5,402.7 91.0,402.7 91.5,402.6 92.0,402.6 92.5,402.5 93.0,402.5 93.5,402.4 94.0,402.4 94.5,402.3 95.0,402.2 95.5,402.1 96.0,402.0 96.5,401.8 97.0,401.5 97.5,401.1 98.0,400.6 98.5,400.0 99.0,399.3 99.4,398.3 99.9,397.0 100.4,395.6 100.8,394.1 101.3,392.7 101.7,391.3 102.2,390.0 102.7,389.1 103.1,388.4 103.6,388.2 104.1,388.4 104.6,389.1 105.1,390.0 105.6,391.0 106.1,392.1 106.6,393.0 107.1,393.7 107.6,394.0 108.1,394.1 108.6,394.1 109.1,394.2 109.6,394.2 110.0,394.2 110.5,394.3 111.0,394.3 111.5,394.3 112.0,394.4 112.5,394.5 113.0,394.6 113.5,394.8 113.9,395.0 114.4,395.2 114.9,395.4 115.4,395.7 115.9,395.9 116.4,396.2 116.9,396.5 117.4,396.7 117.8,397.0 118.3,397.2 118.8,397.5 119.3,397.7 119.8,397.9 120.2,398.1 120.7,398.3 121.2,398.5 121.7,398.7 122.2,399.0 122.6,399.2 123.1,399.4 123.6,399.5 124.0,399.7 124.5,399.9 125.0,400.0 125.5,400.1 126.0,400.3 126.5,400.4 127.0,400.6 127.5,400.7 128.0,400.8 128.5,401.0 129.0,401.1 129.5,401.2 130.0,401.3 130.5,401.5 131.0,401.6 131.5,401.7 132.0,401.7 132.5,401.8 133.0,401.9 133.5,401.9 134.0,402.0 134.5,402.0 135.0,402.0 135.5,402.0 136.0,402.0 136.5,402.0 137.0,402.0 137.5,402.0 138.0,402.0 138.5,402.0 138.9,402.0 139.4,402.0 139.9,402.0 140.4,402.0 140.9,401.9 141.4,401.9 141.9,401.9 142.4,401.9 142.9,401.9 143.4,401.9 143.9,401.9 144.4,401.8 144.9,401.8 145.4,401.8 145.9,401.8 146.4,401.8 146.9,401.7 147.3,401.7 147.8,401.7 148.3,401.7 148.8,401.6 149.3,401.6 149.8,401.6 150.3,401.5 150.8,401.5 151.3,401.4 151.7,401.1 152.2,400.7 152.7,400.2 153.2,399.5 153.6,398.8 154.1,398.1 154.6,397.3 155.1,396.5 155.5,395.7 156.0,395.0 156.5,394.1 157.0,393.1 157.5,391.9 158.0,390.7 158.5,389.4 158.9,388.2 159.4,387.0 159.9,386.1 160.4,385.3 160.9,384.8 161.4,384.6 161.8,384.8 162.3,385.2 162.8,385.9 163.2,386.7 163.7,387.6 164.1,388.5 164.6,389.3 165.0,390.0 165.5,390.6 166.0,391.2 166.5,391.8 167.0,392.4 167.5,393.0 168.0,393.5 168.5,394.1 169.0,394.6 169.5,395.1 170.0,395.5 170.5,396.0 171.0,396.5 171.5,396.9 172.0,397.4 172.5,397.9 173.0,398.4 173.5,398.9 174.0,399.4 174.5,399.8 175.0,400.2 175.5,400.6 176.0,400.9 176.5,401.1 177.0,401.3 177.5,401.5 178.0,401.5 178.5,401.5 179.0,401.5 179.5,401.5 180.0,401.5 180.5,401.5 181.0,401.5 181.5,401.5 182.0,401.5 182.5,401.5 183.0,401.5 183.5,401.5 184.0,401.5 184.5,401.5 185.0,401.5 185.5,401.5 186.0,401.5 186.5,401.5 187.0,401.5 187.5,401.5 188.0,401.5 188.5,401.5 189.0,401.5 189.5,401.5 190.0,401.5 190.5,401.5 191.0,401.5 191.5,401.5 192.0,401.5 192.5,401.5 193.0,401.4 193.4,401.3 193.9,401.1 194.4,400.9 194.9,400.6 195.4,400.4 195.9,400.1 196.4,399.8 196.8,399.5 197.3,399.3 197.8,399.0 198.3,398.7 198.8,398.3 199.3,397.9 199.8,397.6 200.3,397.2 200.8,397.0 201.3,396.8 201.8,396.6 202.3,396.5 202.8,396.3 203.3,396.2 203.8,396.0 204.2,395.9 204.7,395.8 205.2,395.7 205.7,395.7 206.2,395.6 206.7,395.6 207.2,395.6 207.7,395.6 208.2,395.6 208.6,395.7 209.1,395.7 209.6,395.7 210.1,395.8 210.6,395.8 211.1,395.9 211.6,396.0 212.1,396.0 212.5,396.1 213.0,396.2 213.5,396.3 214.0,396.4 214.5,396.6 215.0,396.8 215.5,397.2 216.0,397.6 216.4,398.0 216.9,398.5 217.4,398.9 217.9,399.2 218.4,399.5 218.9,399.7 219.3,399.9 219.8,400.1 220.3,400.3 220.8,400.5 221.2,400.7 221.7,400.9 222.2,401.0 222.6,401.2 223.1,401.3 223.6,401.4 224.1,401.4 224.5,401.5 225.0,401.5 225.5,401.5 226.0,401.5 226.5,401.5 227.0,401.5 227.5,401.5 228.0,401.5 228.5,401.5 229.0,401.5 229.5,401.5 230.0,401.5 230.5,401.5 231.0,401.5 231.5,401.5 232.0,401.5 232.5,401.5 233.0,401.5 233.5,401.5 234.0,401.5 234.5,401.5 235.0,401.5 235.5,401.5 236.0,401.5 236.5,401.5 237.0,401.5 237.5,401.5 238.0,401.5 238.5,401.5 239.0,401.5 239.5,401.5 240.0,401.5 240.5,401.5 241.0,401.5 241.5,401.5 242.0,401.5 242.5,401.5 243.0,401.5 243.5,401.5 244.0,401.5 244.5,401.5 245.0,401.5 245.5,401.5 246.0,401.5 246.5,401.5 247.0,401.5 247.5,401.5 248.0,401.5 248.5,401.5 249.0,401.5 249.5,401.5 250.0,401.5 250.5,401.5 251.0,401.5 251.5,401.5 252.0,401.5 252.5,401.5 253.0,401.5 253.5,401.5 254.0,401.5 254.5,401.5 255.0,401.5 255.5,401.5 256.0,401.5 256.5,401.5 257.0,401.5 257.5,401.5 258.0,401.5 258.5,401.5 259.0,401.5 259.5,401.5 260.0,401.5 260.5,401.5 261.0,401.5 261.5,401.5 262.0,401.5 262.5,401.5 263.0,401.5 263.5,401.5 264.0,401.5 264.5,401.5 265.0,401.5 265.5,401.5 266.0,401.4 266.5,401.3 267.0,401.1 267.5,400.9 267.9,400.7 268.4,400.4 268.9,400.2 269.4,400.0 269.9,399.8 270.4,399.6 270.9,399.5 271.4,399.4 271.9,399.3 272.4,399.2 272.8,399.1 273.3,398.9 273.8,398.8 274.3,398.7 274.8,398.6 275.3,398.5 275.8,398.4 276.3,398.3 276.8,398.3 277.2,398.2 277.7,398.1 278.2,398.0 278.7,397.9 279.2,397.9 279.7,397.8 280.2,397.7 280.7,397.7 281.1,397.6 281.6,397.6 282.1,397.5 282.6,397.5 283.1,397.5 283.6,397.4 284.1,397.4 284.6,397.4 285.1,397.4 285.6,397.3 286.1,397.3 286.6,397.3 287.1,397.3 287.6,397.3 288.1,397.2 288.6,397.2 289.0,397.2 289.5,397.2 290.0,397.2 290.5,397.2 291.0,397.1 291.5,397.1 292.0,397.1 292.5,397.1 293.0,397.1 293.5,397.1 294.0,397.0 294.5,397.0 295.0,397.0 295.5,397.0 296.0,397.0 296.5,396.9 297.0,396.9 297.5,396.9 298.0,396.9 298.5,396.9 299.0,396.9 299.5,396.8 300.0,396.8 300.5,396.8 301.0,396.8 301.5,396.8 302.0,396.8 302.5,396.8 302.9,396.7 303.4,396.7 303.9,396.7 304.4,396.7 304.9,396.7 305.4,396.7 305.9,396.7 306.4,396.7 306.9,396.6 307.4,396.6 307.9,396.6 308.4,396.6 308.9,396.6 309.4,396.6 309.9,396.6 310.4,396.5 310.9,396.5 311.4,396.5 311.9,396.5 312.4,396.5 312.9,396.4 313.4,396.4 313.9,396.4 314.4,396.4 314.9,396.4 315.4,396.3 315.9,396.3 316.4,396.3 316.9,396.2 317.4,396.2 317.8,396.2 318.3,396.2 318.8,396.1 319.3,396.1 319.8,396.0 320.3,396.0 320.8,396.0 321.3,395.9 321.8,395.9 322.3,395.8 322.8,395.8 323.3,395.7 323.8,395.7 324.3,395.6 324.8,395.6 325.3,395.5 325.8,395.3 326.3,394.8 326.8,394.1 327.2,393.2 327.7,392.2 328.2,391.0 328.7,389.7 329.2,388.4 329.7,387.1 330.1,385.7 330.6,384.5 331.1,383.3 331.6,382.2 332.1,381.2 332.6,380.2 333.1,379.2 333.6,378.2 334.0,377.2 334.5,376.2 335.0,375.2 335.5,374.2 336.0,373.2 336.5,372.2 337.0,371.2 337.5,370.2 337.9,369.3 338.4,368.3 338.9,367.4 339.4,366.4 339.9,365.5 340.4,364.6 340.8,363.5 341.3,362.4 341.8,361.3 342.2,360.4 342.7,359.6 343.1,359.1 343.6,358.9 344.1,359.0 344.5,359.4 345.0,359.9 345.4,360.5 345.9,361.2 346.4,361.9 346.8,362.5 347.3,363.0 347.7,363.4 348.2,363.5 348.7,363.5 349.2,363.5 349.6,363.4 350.1,363.4 350.6,363.3 351.1,363.3 351.5,363.2 352.0,363.2 352.5,363.1 353.0,363.1 353.4,363.0 353.9,363.0 354.4,363.0 354.9,363.0 355.3,363.1 355.8,363.1 356.3,363.2 356.8,363.3 357.2,363.5 357.7,363.7 358.2,363.8 358.7,364.0 359.1,364.3 359.6,364.5 360.1,364.9 360.5,365.8 361.0,366.9 361.5,368.2 362.0,369.7 362.4,371.2 362.9,372.8 363.4,374.4 363.9,375.8 364.3,377.0 364.8,378.0 365.3,378.8 365.8,379.6 366.3,380.3 366.7,381.0 367.2,381.6 367.7,382.3 368.2,382.9 368.7,383.4 369.2,384.0 369.6,384.6 370.1,385.1 370.6,385.7 371.1,386.3 371.6,386.9 372.1,387.4 372.5,387.9 373.0,388.4 373.5,388.9 374.0,389.4 374.4,389.9 374.9,390.5 375.4,391.0 375.9,391.6 376.3,392.2 376.8,392.9 377.3,393.6 377.8,394.4 378.2,395.3 378.7,396.4 379.1,397.5 379.6,398.6 380.1,399.8 380.5,400.9 381.0,402.0" fill="none" stroke="#0f0" stroke-width="3" stroke-linejoin="round" stroke-linecap="butt" clip-path="url(#ca)"/>
<polyline points="444.0,403.0 444.5,402.9 445.0,402.8 445.5,402.6 445.9,402.5 446.4,402.4 446.9,402.2 447.4,402.0 447.9,401.7 448.3,401.3 448.8,400.7 449.2,400.1 449.7,399.4 450.2,398.6 450.6,397.7 451.1,396.8 451.5,395.9 452.0,395.0 452.5,394.1 452.9,393.1 453.4,392.0 453.9,390.7 454.4,389.4 454.8,387.8 455.3,385.9 455.8,383.4 456.3,380.1 456.8,376.0 457.2,371.4 457.7,366.2 458.2,360.5 458.7,354.5 459.1,347.8 459.6,339.5 460.0,330.2 460.5,320.5 460.9,311.0 461.4,302.3 461.8,294.7 462.3,287.5 462.7,280.5 463.1,273.4 463.6,266.2 464.0,258.7 465.3,234.2 466.7,255.7 467.1,262.6 467.6,269.4 468.0,275.0 468.5,279.8 469.0,284.1 469.4,288.0 469.9,291.4 470.4,294.4 470.9,297.0 473.2,305.7 477.0,284.8 477.5,282.4 478.0,279.9 478.5,277.5 479.0,275.4 479.5,273.5 480.0,272.0 480.4,270.9 480.9,269.8 481.3,268.8 481.8,267.9 482.2,267.2 482.7,266.8 483.1,266.6 486.6,279.6 490.1,263.9 493.1,252.6 496.2,270.0 496.7,274.0 497.1,278.9 497.6,284.2 498.0,289.6 498.5,294.7 499.0,300.1 499.5,305.6 500.0,310.7 500.5,315.0 505.8,344.1 510.0,325.0 515.4,304.9 520.6,328.4 521.1,329.9 521.6,331.4 522.1,332.9 522.6,334.3 523.0,335.6 523.5,336.7 524.0,337.7 524.5,338.4 525.0,338.9 525.5,339.2 526.0,339.5 526.5,339.7 527.0,339.9 527.5,340.1 528.0,340.2 528.5,340.4 529.0,340.6 529.5,340.8 530.0,341.0 530.4,341.2 530.9,341.4 531.3,341.6 531.8,341.9 532.2,342.3 532.7,343.1 533.2,344.3 533.7,345.9 534.2,347.9 534.7,350.0 535.2,352.2 535.7,354.5 536.1,356.8 536.6,359.8 537.0,362.9 537.4,366.0 537.9,368.5 538.3,370.2 538.8,371.4 539.3,372.5 539.7,373.6 540.2,374.4 540.7,375.2 541.2,375.9 541.6,376.4 542.1,376.9 542.6,377.2 543.1,377.5 543.6,377.7 544.1,377.9 544.6,378.1 545.0,378.3 545.5,378.5 546.0,378.7 546.5,378.8 547.0,379.0 547.5,379.1 548.0,379.2 548.5,379.3 548.9,379.5 549.4,379.6 549.9,379.7 550.4,379.8 550.9,379.9 551.4,380.0 551.9,380.1 552.4,380.2 552.8,380.3 553.3,380.4 553.8,380.5 554.3,380.6 554.8,380.7 555.3,380.8 555.8,381.0 556.3,381.1 556.8,381.2 557.3,381.3 557.8,381.5 558.3,381.6 558.8,381.7 559.3,381.9 559.8,382.0 560.3,382.1 560.8,382.3 561.3,382.4 561.8,382.5 562.3,382.6 562.8,382.8 563.3,382.9 563.8,383.0 564.3,383.1 564.8,383.2 565.3,383.3 565.8,383.4 566.3,383.5 566.8,383.6 567.3,383.6 567.8,383.7 568.3,383.7 568.8,383.8 569.3,383.8 569.8,383.9 570.3,383.9 570.8,383.9 571.3,384.0 571.7,384.0 572.2,384.0 572.7,384.0 573.2,384.1 573.7,384.1 574.2,384.1 574.7,384.1 575.2,384.1 575.7,384.2 576.2,384.2 576.7,384.2 577.2,384.2 577.6,384.3 578.1,384.3 578.6,384.3 579.1,384.4 579.6,384.4 580.1,384.5 580.6,384.6 581.0,384.9 581.5,385.2 582.0,385.6 582.5,386.1 582.9,386.5 583.4,387.0 583.9,387.5 584.4,387.9 584.8,388.2 585.3,388.5 585.8,388.7 586.3,388.9 586.8,389.1 587.2,389.3 587.7,389.4 588.2,389.6 588.7,389.7 589.2,389.9 589.7,390.0 590.2,390.2 590.6,390.3 591.1,390.4 591.6,390.6 592.1,390.7 592.6,390.8 593.1,390.9 593.5,391.0 594.0,391.1 594.5,391.2 595.0,391.3 595.5,391.4 596.0,391.5 596.5,391.6 596.9,391.7 597.4,391.8 597.9,391.9 598.4,392.0 598.9,392.1 599.4,392.2 599.9,392.3 600.4,392.4 600.9,392.5 601.4,392.6 601.9,392.7 602.4,392.8 602.9,392.9 603.4,393.0 603.9,393.1 604.4,393.1 604.9,393.2 605.4,393.3 605.9,393.4 606.4,393.5 606.9,393.6 607.4,393.6 607.9,393.7 608.4,393.8 608.9,393.9 609.4,393.9 609.9,394.0 610.4,394.1 610.9,394.1 611.4,394.2 611.9,394.2 612.4,394.3 612.9,394.4 613.4,394.4 613.9,394.5 614.4,394.5 614.9,394.5 615.4,394.6 615.9,394.6 616.4,394.7 616.9,394.7 617.4,394.7 617.9,394.8 618.4,394.8 618.8,394.9 619.3,394.9 619.8,394.9 620.3,395.0 620.8,395.0 621.3,395.0 621.8,395.1 622.3,395.1 622.8,395.1 623.3,395.2 623.8,395.2 624.3,395.3 624.8,395.3 625.3,395.3 625.8,395.4 626.3,395.4 626.8,395.5 627.3,395.5 627.7,395.6 628.2,395.7 628.7,395.7 629.2,395.8 629.7,395.8 630.2,395.9 630.7,396.0 631.2,396.0 631.7,396.1 632.2,396.1 632.7,396.2 633.1,396.3 633.6,396.3 634.1,396.4 634.6,396.4 635.1,396.5 635.6,396.5 636.1,396.6 636.6,396.6 637.1,396.6 637.6,396.7 638.1,396.7 638.5,396.7 639.0,396.8 639.5,396.8 640.0,396.8 640.5,396.8 641.0,396.8 641.5,396.8 642.0,396.8 642.4,396.8 642.9,396.8 643.4,396.7 643.9,396.7 644.3,396.7 644.8,396.7 645.3,396.6 645.8,396.6 646.3,396.6 646.7,396.6 647.2,396.6 647.7,396.5 648.2,396.5 648.6,396.5 649.1,396.5 649.6,396.5 650.1,396.5 650.6,396.5 651.1,396.5 651.6,396.5 652.1,396.6 652.6,396.6 653.1,396.6 653.6,396.7 654.1,396.7 654.6,396.8 655.1,396.8 655.6,396.8 656.0,396.9 656.5,396.9 657.0,397.0 657.5,397.0 658.0,397.1 658.5,397.1 659.0,397.2 659.5,397.2 660.0,397.3 660.5,397.3 661.0,397.3 661.5,397.4 662.0,397.4 662.5,397.4 663.0,397.5 663.5,397.5 664.0,397.5 664.5,397.5 665.0,397.5 665.5,397.6 666.0,397.6 666.5,397.6 667.0,397.6 667.5,397.6 668.0,397.7 668.5,397.7 669.0,397.7 669.5,397.7 670.0,397.7 670.5,397.8 671.0,397.8 671.5,397.8 672.0,397.8 672.5,397.8 673.0,397.8 673.5,397.9 674.0,397.9 674.5,397.9 675.0,397.9 675.5,397.9 676.0,398.0 676.5,398.0 677.0,398.0" fill="none" stroke="#0f0" stroke-width="3" stroke-linejoin="round" stroke-linecap="butt" clip-path="url(#ca)"/>
<polyline points="87.0,403.0 87.5,402.9 88.0,402.8 88.5,402.7 89.0,402.7 89.5,402.6 90.0,402.5 90.5,402.5 91.0,402.4 91.5,402.3 92.0,402.2 92.5,402.0 93.0,401.9 93.5,401.7 94.0,401.5 94.5,401.0 95.0,400.1 95.5,399.0 96.0,398.0 96.5,397.1 97.0,396.3 97.5,395.5 98.0,394.7 98.5,393.9 99.0,393.0 99.5,392.1 100.0,391.1 100.5,390.0 100.9,388.7 101.4,387.1 101.8,385.3 102.3,383.5 102.7,382.0 103.2,380.9 103.6,380.5 104.1,380.8 104.5,381.6 105.0,382.8 105.5,384.0 106.0,385.2 106.4,386.2 106.9,386.7 107.4,386.9 107.9,387.1 108.4,387.2 108.8,387.3 109.3,387.4 109.8,387.5 110.3,387.6 110.8,387.7 111.2,387.8 111.7,387.9 112.2,388.0 112.7,388.2 113.2,388.4 113.7,388.7 114.1,389.1 114.6,389.4 115.1,389.9 115.6,390.4 116.0,390.9 116.5,391.4 117.0,391.9 117.5,392.4 117.9,392.9 118.4,393.5 118.9,393.9 119.4,394.4 119.8,394.8 120.3,395.2 120.8,395.5 121.3,395.8 121.7,396.0 122.2,396.3 122.7,396.5 123.1,396.7 123.6,396.9 124.1,397.1 124.5,397.3 125.0,397.5 125.5,397.7 126.0,397.9 126.5,398.1 127.0,398.3 127.5,398.5 128.0,398.6 128.5,398.8 129.0,399.0 129.5,399.2 130.0,399.4 130.5,399.5 131.0,399.7 131.5,399.8 132.0,400.0 132.5,400.1 133.0,400.2 133.5,400.3 134.0,400.4 134.5,400.4 135.0,400.5 135.5,400.5 136.0,400.6 136.5,400.6 137.0,400.7 137.5,400.7 138.0,400.8 138.5,400.8 139.0,400.8 139.5,400.9 140.0,400.9 140.5,401.0 141.0,401.0 141.5,401.0 142.0,401.1 142.5,401.1 143.0,401.1 143.5,401.1 144.0,401.2 144.5,401.2 145.0,401.2 145.5,401.3 146.0,401.3 146.5,401.3 147.0,401.3 147.5,401.3 148.0,401.4 148.5,401.4 149.0,401.4 149.5,401.4 150.0,401.4 150.5,401.4 151.0,401.5 151.5,401.5 152.0,401.5 152.5,401.5 153.0,401.5 153.5,401.5 154.0,401.5 154.5,401.5 155.0,401.5 155.5,401.4 156.0,401.3 156.5,401.0 157.0,400.7 157.5,400.4 158.0,400.0 158.5,399.6 159.0,399.3 159.5,399.0 160.0,398.7 160.5,398.6 161.0,398.5 161.5,398.6 162.0,398.7 162.5,399.0 163.0,399.3 163.5,399.6 164.0,400.0 164.5,400.4 165.0,400.7 165.5,401.0 166.0,401.3 166.5,401.4 167.0,401.5 167.5,401.5 168.0,401.5 168.5,401.5 169.0,401.5 169.5,401.5 170.0,401.5 170.5,401.5 171.0,401.5 171.5,401.5 172.0,401.5 172.5,401.5 173.0,401.5 173.5,401.5 174.0,401.5 174.5,401.5 175.0,401.5 175.4,401.5 175.9,401.5 176.4,401.5 176.9,401.5 177.4,401.5 177.9,401.5 178.4,401.5 178.9,401.5 179.4,401.5 179.9,401.5 180.4,401.5 180.9,401.5 181.4,401.5 181.9,401.5 182.4,401.5 182.9,401.5 183.4,401.5 183.9,401.5 184.4,401.5 184.9,401.5 185.4,401.5 185.9,401.5 186.4,401.5 186.9,401.5 187.4,401.5 187.9,401.5 188.4,401.5 188.9,401.5 189.4,401.5 189.9,401.5 190.4,401.5 190.9,401.5 191.4,401.5 191.9,401.5 192.4,401.5 192.8,401.5 193.3,401.5 193.8,401.5 194.3,401.5 194.8,401.5 195.3,401.5 195.8,401.5 196.3,401.5 196.8,401.5 197.3,401.5 197.8,401.5 198.3,401.5 198.8,401.5 199.3,401.5 199.8,401.5 200.3,401.5 200.8,401.5 201.3,401.5 201.8,401.3 202.3,401.2 202.7,400.9 203.2,400.6 203.7,400.3 204.2,400.0 204.7,399.7 205.2,399.4 205.7,399.1 206.2,398.8 206.6,398.5 207.1,398.4 207.6,398.2 208.1,398.2 208.6,398.2 209.1,398.4 209.6,398.6 210.1,398.9 210.6,399.2 211.1,399.5 211.6,399.9 212.0,400.2 212.5,400.5 213.0,400.8 213.5,401.1 214.0,401.3 214.5,401.5 215.0,401.5 215.5,401.5 216.0,401.5 216.5,401.5 217.0,401.5 217.5,401.5 218.0,401.5 218.5,401.5 219.0,401.5 219.5,401.5 220.0,401.5 220.5,401.5 221.0,401.5 221.5,401.5 222.0,401.5 222.5,401.5 223.0,401.5 223.5,401.5 224.0,401.5 224.5,401.5 225.0,401.5 225.5,401.5 226.0,401.5 226.5,401.5 227.0,401.5 227.5,401.5 228.0,401.5 228.5,401.5 229.0,401.5 229.5,401.5 230.0,401.5 230.4,401.5 230.9,401.5 231.4,401.5 231.9,401.5 232.4,401.5 232.9,401.5 233.4,401.5 233.9,401.5 234.4,401.5 234.9,401.5 235.4,401.5 235.9,401.5 236.4,401.5 236.9,401.5 237.4,401.5 237.9,401.5 238.4,401.5 238.9,401.5 239.4,401.5 239.9,401.5 240.4,401.5 240.9,401.5 241.4,401.5 241.9,401.5 242.4,401.5 242.9,401.5 243.4,401.5 243.9,401.5 244.4,401.5 244.9,401.5 245.4,401.5 245.9,401.5 246.4,401.5 246.9,401.5 247.4,401.5 247.9,401.5 248.4,401.5 248.9,401.5 249.4,401.5 249.9,401.5 250.4,401.5 250.9,401.5 251.4,401.5 251.9,401.5 252.4,401.5 252.9,401.5 253.4,401.5 253.9,401.5 254.4,401.5 254.9,401.5 255.4,401.5 255.9,401.5 256.4,401.5 256.9,401.5 257.4,401.5 257.9,401.5 258.4,401.5 258.9,401.5 259.4,401.5 259.9,401.5 260.4,401.5 260.9,401.5 261.4,401.5 261.8,401.5 262.3,401.5 262.8,401.5 263.3,401.5 263.8,401.5 264.3,401.5 264.8,401.5 265.3,401.5 265.8,401.5 266.3,401.5 266.8,401.5 267.3,401.5 267.8,401.5 268.3,401.5 268.8,401.5 269.3,401.5 269.8,401.5 270.3,401.5 270.8,401.5 271.3,401.5 271.8,401.5 272.3,401.5 272.8,401.5 273.3,401.5 273.8,401.5 274.3,401.5 274.8,401.5 275.3,401.5 275.8,401.5 276.3,401.5 276.8,401.5 277.3,401.5 277.8,401.5 278.3,401.5 278.8,401.4 279.3,401.4 279.8,401.4 280.2,401.3 280.7,401.3 281.2,401.2 281.7,401.2 282.2,401.1 282.7,401.1 283.2,401.0 283.7,400.9 284.2,400.9 284.7,400.8 285.2,400.7 285.7,400.7 286.1,400.6 286.6,400.5 287.1,400.4 287.6,400.4 288.1,400.3 288.6,400.2 289.1,400.1 289.6,400.1 290.1,400.0 290.6,399.9 291.1,399.9 291.6,399.8 292.0,399.8 292.5,399.7 293.0,399.7 293.5,399.6 294.0,399.6 294.5,399.5 295.0,399.5 295.5,399.5 296.0,399.4 296.5,399.4 297.0,399.4 297.5,399.4 298.0,399.4 298.5,399.3 299.0,399.3 299.5,399.3 300.0,399.3 300.5,399.3 301.0,399.2 301.5,399.2 302.0,399.2 302.5,399.2 302.9,399.2 303.4,399.2 303.9,399.2 304.4,399.2 304.9,399.2 305.4,399.1 305.9,399.1 306.4,399.1 306.9,399.1 307.4,399.1 307.9,399.1 308.4,399.1 308.9,399.1 309.4,399.1 309.9,399.1 310.4,399.1 310.9,399.0 311.4,399.0 311.9,399.0 312.4,399.0 312.9,399.0 313.4,399.0 313.9,399.0 314.4,399.0 314.9,398.9 315.4,398.9 315.9,398.9 316.4,398.9 316.9,398.9 317.4,398.9 317.8,398.8 318.3,398.8 318.8,398.8 319.3,398.8 319.8,398.8 320.3,398.7 320.8,398.7 321.3,398.7 321.8,398.7 322.3,398.6 322.8,398.6 323.3,398.6 323.8,398.5 324.3,398.5 324.8,398.4 325.3,398.4 325.8,398.3 326.3,398.1 326.8,397.9 327.3,397.6 327.8,397.2 328.3,396.7 328.8,396.2 329.3,395.7 329.7,395.1 330.2,394.5 330.7,393.9 331.2,393.3 331.7,392.7 332.2,392.1 332.7,391.6 333.2,391.0 333.7,390.5 334.2,390.0 334.7,389.4 335.1,388.8 335.6,388.1 336.1,387.5 336.6,386.8 337.1,386.1 337.6,385.4 338.0,384.7 338.5,384.1 339.0,383.5 339.5,382.9 340.0,382.4 340.5,382.0 340.9,381.6 341.4,381.3 341.9,381.2 342.4,381.1 342.9,381.3 343.4,381.9 343.8,382.7 344.3,383.7 344.8,384.9 345.3,386.0 345.8,387.1 346.2,388.1 346.7,388.9 347.2,389.4 347.7,389.7 348.2,390.0 348.7,390.2 349.2,390.5 349.7,390.7 350.2,390.8 350.7,391.0 351.2,391.2 351.7,391.3 352.2,391.4 352.7,391.5 353.1,391.6 353.6,391.8 354.1,391.9 354.6,392.0 355.1,392.1 355.6,392.3 356.1,392.5 356.6,392.6 357.1,392.8 357.6,393.1 358.1,393.3 358.6,393.6 359.1,394.0 359.6,394.5 360.0,395.1 360.5,395.9 361.0,396.6 361.5,397.4 361.9,398.3 362.4,399.0 362.9,399.8 363.4,400.4 363.8,400.9 364.3,401.3 364.8,401.5 365.3,401.6 365.8,401.7 366.3,401.8 366.8,401.9 367.3,401.9 367.7,402.0 368.2,402.1 368.7,402.1 369.2,402.2 369.7,402.2 370.2,402.3 370.7,402.3 371.2,402.4 371.7,402.4 372.2,402.4 372.6,402.5 373.1,402.5 373.6,402.5 374.1,402.6 374.6,402.6 375.1,402.6 375.6,402.7 376.1,402.7 376.6,402.7 377.1,402.8 377.5,402.8 378.0,402.8 378.5,402.9 379.0,402.9 379.5,403.0 380.0,403.0" fill="none" stroke="#00f" stroke-width="3" stroke-linejoin="round" stroke-linecap="butt" clip-path="url(#ca)"/>
<polyline points="450.0,403.0 450.5,402.9 451.0,402.8 451.5,402.7 452.0,402.7 452.5,402.6 453.0,402.5 453.5,402.5 453.9,402.4 454.4,402.3 454.9,402.2 455.4,402.1 455.9,402.0 456.4,401.9 456.9,401.8 457.4,401.7 457.9,401.5 458.4,401.3 458.9,400.9 459.4,400.4 459.9,399.8 460.4,399.2 460.9,398.5 461.4,397.8 461.8,397.1 462.3,396.4 462.8,395.8 463.3,395.3 463.8,394.9 464.3,394.7 464.8,394.6 465.3,394.7 465.7,395.0 466.2,395.5 466.7,396.2 467.1,396.9 467.6,397.7 468.1,398.4 468.6,399.2 469.0,399.9 469.5,400.6 470.0,401.1 470.4,401.4 470.9,401.5 471.4,401.5 471.9,401.5 472.4,401.5 472.9,401.5 473.4,401.5 473.9,401.5 474.4,401.5 474.9,401.5 475.4,401.5 475.9,401.5 476.4,401.5 476.9,401.5 477.4,401.5 477.9,401.5 478.4,401.5 478.9,401.5 479.4,401.5 479.9,401.5 480.4,401.5 480.9,401.5 481.4,401.5 481.9,401.5 482.4,401.5 482.9,401.5 483.4,401.5 483.9,401.5 484.4,401.5 484.9,401.5 485.4,401.5 485.9,401.5 486.4,401.5 486.9,401.5 487.4,401.5 487.9,401.5 488.4,401.5 488.9,401.5 489.4,401.5 489.9,401.5 490.4,401.5 490.9,401.5 491.4,401.5 491.9,401.5 492.4,401.5 492.9,401.5 493.4,401.5 493.9,401.5 494.4,401.5 494.9,401.5 495.4,401.5 495.9,401.5 496.4,401.5 496.9,401.5 497.4,401.5 497.9,401.5 498.4,401.5 498.9,401.5 499.4,401.5 499.9,401.5 500.4,401.5 500.9,401.5 501.4,401.5 501.9,401.5 502.4,401.5 502.9,401.5 503.4,401.5 503.9,401.5 504.4,401.5 504.9,401.5 505.4,401.5 505.9,401.5 506.4,401.5 506.9,401.5 507.4,401.5 507.9,401.5 508.4,401.5 508.9,401.5 509.4,401.5 509.9,401.5 510.4,401.5 510.9,401.5 511.4,401.5 511.9,401.5 512.4,401.5 512.9,401.4 513.4,401.4 513.9,401.3 514.4,401.2 514.9,401.0 515.4,400.9 515.9,400.7 516.4,400.6 516.9,400.4 517.3,400.2 517.8,400.0 518.3,399.7 518.8,399.5 519.3,399.3 519.8,399.1 520.3,398.9 520.8,398.7 521.3,398.5 521.8,398.3 522.3,398.1 522.8,397.9 523.2,397.8 523.7,397.6 524.2,397.5 524.6,397.3 525.1,397.2 525.6,397.0 526.1,396.8 526.5,396.6 527.0,396.3 527.5,395.9 527.9,395.4 528.4,394.8 528.9,394.0 529.4,393.2 529.8,392.3 530.3,391.5 530.8,390.6 531.2,389.8 531.7,389.1 532.2,388.5 532.7,388.0 533.1,387.7 533.6,387.6 534.1,387.8 534.5,388.5 535.0,389.5 535.5,390.7 536.0,392.0 536.5,393.3 536.9,394.5 537.4,395.5 537.8,396.3 538.3,397.2 538.7,398.1 539.1,398.9 539.6,399.4 540.0,399.6 540.5,399.6 541.0,399.6 541.5,399.6 542.0,399.6 542.5,399.6 543.0,399.6 543.5,399.6 544.0,399.6 544.5,399.6 545.0,399.6 545.5,399.6 546.0,399.6 546.5,399.6 547.0,399.6 547.5,399.6 548.0,399.6 548.5,399.6 549.0,399.6 549.5,399.6 550.0,399.6 550.5,399.6 551.0,399.6 551.5,399.6 552.0,399.6 552.5,399.6 553.0,399.6 553.5,399.6 554.0,399.6 554.5,399.6 555.0,399.6 555.5,399.6 556.0,399.6 556.5,399.6 557.0,399.6 557.5,399.6 558.0,399.6 558.5,399.6 559.0,399.6 559.5,399.6 560.0,399.6 560.5,399.6 561.0,399.6 561.5,399.6 562.0,399.6 562.5,399.6 563.0,399.6 563.5,399.6 564.0,399.6 564.5,399.6 565.0,399.6 565.5,399.6 566.0,399.6 566.5,399.6 567.0,399.6 567.5,399.6 568.0,399.6 568.5,399.6 569.0,399.6 569.5,399.6 570.0,399.6 570.5,399.6 571.0,399.6 571.5,399.6 572.0,399.6 572.5,399.6 573.0,399.6 573.5,399.6 574.0,399.6 574.5,399.6 575.0,399.6 575.5,399.5 575.9,399.2 576.4,398.8 576.9,398.3 577.3,397.7 577.8,397.1 578.3,396.4 578.7,395.8 579.2,395.3 579.7,394.9 580.1,394.6 580.6,394.5 581.1,394.6 581.6,394.9 582.1,395.4 582.6,396.0 583.1,396.7 583.5,397.4 584.0,398.1 584.5,398.7 585.0,399.2 585.5,399.5 586.0,399.6 586.5,399.6 587.0,399.6 587.5,399.6 588.0,399.6 588.5,399.5 589.0,399.5 589.5,399.5 590.0,399.4 590.5,399.4 591.0,399.4 591.5,399.3 592.0,399.3 592.5,399.2 593.0,399.2 593.5,399.1 594.0,399.1 594.5,399.0 595.0,399.0 595.5,398.9 596.0,398.9 596.5,398.8 597.0,398.8 597.5,398.8 598.0,398.7 598.5,398.7 599.0,398.7 599.5,398.6 600.0,398.6 600.5,398.6 601.0,398.6 601.5,398.5 602.0,398.5 602.4,398.5 602.9,398.5 603.4,398.5 603.9,398.5 604.4,398.5 604.9,398.4 605.4,398.4 605.9,398.4 606.4,398.4 606.9,398.4 607.3,398.4 607.8,398.4 608.3,398.4 608.8,398.4 609.3,398.4 609.8,398.4 610.3,398.3 610.8,398.3 611.3,398.3 611.7,398.3 612.2,398.3 612.7,398.3 613.2,398.3 613.7,398.3 614.2,398.2 614.7,398.2 615.2,398.2 615.7,398.2 616.2,398.2 616.6,398.1 617.1,398.1 617.6,398.1 618.1,398.0 618.6,398.0 619.1,397.9 619.6,397.6 620.1,397.3 620.6,396.9 621.0,396.5 621.5,396.1 622.0,395.8 622.5,395.6 623.0,395.5 623.5,395.6 624.0,395.7 624.5,396.0 625.0,396.3 625.5,396.6 626.0,396.9 626.5,397.2 627.0,397.5 627.5,397.8 628.0,397.9 628.5,398.0 629.0,398.0 629.5,398.0 630.0,398.0 630.5,398.0 631.0,398.0 631.5,398.0 632.0,398.0 632.5,398.0 633.0,398.0 633.5,398.0 634.0,398.0 634.5,398.0 635.0,398.0 635.5,398.0 636.0,397.9 636.5,397.9 637.0,397.9 637.5,397.9 638.0,397.9 638.5,397.9 639.0,397.9 639.5,397.9 640.0,397.9 640.5,397.9 641.0,397.9 641.5,397.9 642.0,397.8 642.5,397.8 643.0,397.8 643.5,397.8 644.0,397.8 644.5,397.8 645.0,397.8 645.5,397.8 646.0,397.7 646.5,397.7 647.0,397.7 647.5,397.7 648.0,397.7 648.5,397.7 649.0,397.7 649.5,397.6 650.0,397.6 650.5,397.6 651.0,397.6 651.5,397.6 652.0,397.6 652.5,397.6 653.0,397.5 653.5,397.5 654.0,397.5 654.5,397.5 655.0,397.5 655.5,397.5 656.0,397.4 656.5,397.4 657.0,397.4 657.5,397.4 658.0,397.4 658.5,397.4 659.0,397.3 659.5,397.3 660.0,397.3 660.5,397.3 661.0,397.3 661.5,397.3 662.0,397.3 662.5,397.2 663.0,397.2 663.5,397.2 664.0,397.2 664.5,397.2 665.0,397.2 665.5,397.1 666.0,397.1 666.5,397.1 667.0,397.1 667.5,397.1 668.0,397.1 668.5,397.0 669.0,397.0 669.5,397.0 670.0,397.0 670.5,397.0 671.0,397.0 671.5,396.9 672.0,396.9 672.5,396.9 673.0,396.9 673.5,396.9 674.0,396.9 674.5,396.9 675.0,396.9 675.5,396.8 676.0,396.8 676.5,396.8 677.0,396.8" fill="none" stroke="#00f" stroke-width="3" stroke-linejoin="round" stroke-linecap="butt" clip-path="url(#ca)"/>
<rect x="82" y="2" width="600.00" height="5.00" fill="#000"/>
<rect x="82" y="2" width="5.00" height="406.00" fill="#000"/>
<rect x="677" y="2" width="5.00" height="406.00" fill="#000"/>
<rect x="82" y="403" width="600.00" height="5.00" fill="#000"/>
<rect x="82" y="400" width="600.00" height="5.00" fill="#000"/>
<rect x="82" y="400" width="5.00" height="406.00" fill="#000"/>
<rect x="677" y="400" width="5.00" height="406.00" fill="#000"/>
<rect x="82" y="801" width="600.00" height="5.00" fill="#000"/>
<rect x="141.0" y="405" width="5.00" height="13.60" fill="#000"/>
<rect x="141.0" y="787" width="5.00" height="14.00" fill="#000"/>
<rect x="200.5" y="405" width="5.00" height="4.80" fill="#000"/>
<rect x="200.5" y="795.5" width="5.00" height="5.50" fill="#000"/>
<rect x="260.0" y="405" width="5.00" height="13.60" fill="#000"/>
<rect x="260.0" y="787" width="5.00" height="14.00" fill="#000"/>
<rect x="319.5" y="405" width="5.00" height="4.80" fill="#000"/>
<rect x="319.5" y="795.5" width="5.00" height="5.50" fill="#000"/>
<rect x="379.0" y="405" width="5.00" height="13.60" fill="#000"/>
<rect x="379.0" y="787" width="5.00" height="14.00" fill="#000"/>
<rect x="438.5" y="405" width="5.00" height="4.80" fill="#000"/>
<rect x="438.5" y="795.5" width="5.00" height="5.50" fill="#000"/>
<rect x="498.0" y="405" width="5.00" height="13.60" fill="#000"/>
<rect x="498.0" y="787" width="5.00" height="14.00" fill="#000"/>
<rect x="557.5" y="405" width="5.00" height="4.80" fill="#000"/>
<rect x="557.5" y="795.5" width="5.00" height="5.50" fill="#000"/>
<rect x="617.0" y="405" width="5.00" height="13.60" fill="#000"/>
<rect x="617.0" y="787" width="5.00" height="14.00" fill="#000"/>
<rect x="87" y="753.5" width="5.00" height="5.00" fill="#000"/>
<rect x="672" y="753.5" width="5.00" height="5.00" fill="#000"/>
<rect x="87" y="706.9" width="13.00" height="5.00" fill="#000"/>
<rect x="664" y="706.9" width="13.00" height="5.00" fill="#000"/>
<rect x="87" y="660.7" width="5.00" height="5.00" fill="#000"/>
<rect x="672" y="660.7" width="5.00" height="5.00" fill="#000"/>
<rect x="87" y="613.2" width="13.00" height="5.00" fill="#000"/>
<rect x="664" y="613.2" width="13.00" height="5.00" fill="#000"/>
<rect x="87" y="567.1" width="5.00" height="5.00" fill="#000"/>
<rect x="672" y="567.1" width="5.00" height="5.00" fill="#000"/>
<rect x="87" y="519.9" width="13.00" height="5.00" fill="#000"/>
<rect x="664" y="519.9" width="13.00" height="5.00" fill="#000"/>
<rect x="87" y="473.4" width="5.00" height="5.00" fill="#000"/>
<rect x="672" y="473.4" width="5.00" height="5.00" fill="#000"/>
<rect x="87" y="427.0" width="13.00" height="5.00" fill="#000"/>
<rect x="664" y="427.0" width="13.00" height="5.00" fill="#000"/>
<rect x="379" y="407" width="5.00" height="25.00" fill="#000"/>
<rect x="379" y="456" width="5.00" height="25.00" fill="#000"/>
<rect x="379" y="504" width="5.00" height="25.00" fill="#000"/>
<rect x="379" y="553" width="5.00" height="25.00" fill="#000"/>
<rect x="379" y="601" width="5.00" height="25.00" fill="#000"/>
<rect x="379" y="650" width="5.00" height="25.00" fill="#000"/>
<rect x="379" y="698" width="5.00" height="25.00" fill="#000"/>
<rect x="379" y="747" width="5.00" height="25.00" fill="#000"/>
<rect x="379" y="795" width="5.00" height="6.00" fill="#000"/>
<polyline points="87.0,732.6 87.5,730.4 88.0,727.8 88.5,725.2 89.0,722.7 89.5,720.6 90.0,719.2 90.5,718.7 91.0,718.9 91.4,719.4 91.9,720.2 92.3,721.2 92.8,722.5 93.3,723.9 93.7,725.4 94.2,727.0 94.7,729.1 95.1,732.1 95.6,735.7 96.1,739.6 96.5,743.6 97.0,747.4 97.5,751.1 97.9,755.0 98.3,759.0 98.8,762.9 99.2,766.5 99.7,769.6 100.2,772.5 100.6,775.4 101.1,778.2 101.6,780.9 102.0,783.2 102.5,785.3 102.9,786.9 103.4,788.1 103.9,789.0 104.3,789.8 104.8,790.5 105.3,791.2 105.8,791.8 106.2,792.3 106.7,792.7 107.2,793.1 107.6,793.4 108.1,793.7 108.6,793.9 109.1,794.2 109.6,794.4 110.1,794.6 110.6,794.8 111.1,795.0 111.6,795.1 112.1,795.3 112.6,795.4 113.1,795.5 113.6,795.5 114.1,795.6 114.6,795.6 115.1,795.6 115.5,795.4 116.0,795.2 116.4,794.9 116.9,794.6 117.4,794.2 117.8,793.7 118.3,793.1 118.7,792.5 119.2,791.9 119.7,790.9 120.1,789.1 120.6,786.8 121.1,784.0 121.5,780.7 122.0,777.2 122.4,773.5 122.9,769.6 123.4,765.0 123.8,759.3 124.3,752.9 124.8,746.0 125.2,739.2 125.7,732.6 126.2,726.5 126.6,720.5 127.1,714.4 127.5,708.2 128.0,702.0 128.4,695.6 128.9,687.8 129.4,679.9 129.9,673.3 131.8,657.6 133.6,673.3 134.0,679.4 134.5,686.2 134.9,690.0 135.4,691.0 135.9,691.7 136.4,692.2 136.8,692.6 137.3,693.1 137.8,693.7 138.3,694.4 138.7,695.1 139.2,695.9 139.7,696.8 140.1,697.9 140.6,699.3 141.1,701.7 141.5,705.4 141.9,710.0 142.4,714.9 142.9,719.5 143.3,723.3 143.8,726.6 144.2,729.8 144.7,732.7 145.2,735.5 145.6,737.9 146.1,740.0 146.6,741.8 147.0,743.5 147.5,745.0 147.9,746.4 148.4,747.8 148.9,749.0 149.3,750.1 149.8,751.1 150.3,752.1 150.7,753.0 151.2,753.9 151.6,754.8 152.1,755.6 152.6,756.4 153.0,757.1 153.5,757.7 153.9,758.1 154.4,758.5 154.9,758.8 155.3,759.1 155.8,759.4 156.3,759.6 156.8,759.8 157.2,760.0 157.7,760.2 158.2,760.3 158.6,760.4 159.1,760.4 159.6,760.2 160.0,759.7 160.5,758.9 161.0,758.2 161.5,757.4 161.9,756.9 162.4,756.7 162.8,757.3 163.3,758.9 163.7,761.1 164.2,763.5 164.6,765.9 165.1,768.6 165.5,771.8 166.0,775.2 166.5,778.6 166.9,781.8 167.4,784.4 169.3,791.9 172.0,769.6 172.5,763.9 172.9,757.3 173.4,749.8 173.9,741.5 174.3,732.6 174.8,723.3 175.2,713.5 175.7,702.5 176.2,690.3 176.6,677.0 177.1,659.0 177.6,640.0 178.0,627.1 178.4,614.7 178.8,600.0 179.3,573.8 179.8,545.0 180.2,524.3 180.6,505.0 181.5,467.3 182.4,505.0 182.9,524.8 183.4,545.0 183.8,564.4 184.2,584.6 184.6,600.0 185.0,610.3 185.4,618.4 185.9,625.4 186.3,632.2 186.7,640.0 187.1,648.9 187.6,658.3 188.0,667.7 188.4,677.0 188.8,686.7 189.3,696.5 189.7,706.2 190.2,715.3 190.6,723.3 191.1,730.7 191.5,737.9 191.9,744.6 192.4,750.7 192.9,756.0 193.3,760.4 193.8,764.5 194.2,768.5 194.7,772.2 195.2,775.2 195.6,777.3 196.1,778.0 196.6,777.8 197.0,777.2 197.5,776.3 197.9,775.1 198.4,773.8 198.9,772.4 199.3,771.0 199.8,769.6 200.3,768.0 200.7,766.1 201.2,764.0 201.7,761.7 202.1,759.6 202.6,757.6 203.0,756.0 203.5,754.8 204.0,753.9 204.5,753.0 204.9,752.2 205.4,751.5 205.9,750.8 206.4,750.3 206.8,749.9 207.3,749.6 207.8,749.5 208.3,749.6 208.8,749.9 209.3,750.4 209.8,751.0 210.3,751.7 210.8,752.6 211.2,754.1 211.7,756.5 212.1,759.6 212.6,762.8 213.0,765.7 213.4,768.5 213.9,771.5 214.3,774.5 214.8,777.0 215.2,778.8 215.7,780.2 216.2,781.4 216.6,782.5 217.1,783.3 217.6,784.1 218.1,784.7 218.6,785.2 219.1,785.7 219.6,786.2 220.1,786.6 220.6,787.0 221.1,787.4 221.5,787.7 222.0,788.0 222.5,788.3 223.0,788.6 223.5,788.8 224.0,789.1 224.5,789.3 225.0,789.6 225.5,789.8 225.9,790.0 226.4,790.2 226.9,790.5 227.4,790.6 227.9,790.8 228.4,791.0 228.9,791.2 229.4,791.4 229.8,791.5 230.3,791.7 230.8,791.8 231.3,792.0 231.8,792.2 232.3,792.3 232.8,792.5 233.2,792.6 233.7,792.8 234.2,792.9 234.7,793.0 235.2,793.2 235.7,793.3 236.2,793.5 236.6,793.6 237.1,793.7 237.6,793.8 238.1,793.9 238.6,794.1 239.1,794.2 239.6,794.3 240.0,794.4 240.5,794.4 241.0,794.5 241.5,794.6 242.0,794.7 242.5,794.7 243.0,794.8 243.4,794.9 243.9,794.9 244.4,795.0 244.9,795.1 245.4,795.1 245.9,795.2 246.4,795.3 246.8,795.3 247.3,795.4 247.8,795.4 248.3,795.4 248.8,795.5 249.3,795.5 249.8,795.5 250.2,795.6 250.7,795.6 251.2,795.6 251.7,795.6 252.2,795.6 252.7,795.6 253.2,795.6 253.7,795.6 254.1,795.5 254.6,795.5 255.1,795.5 255.6,795.4 256.1,795.4 256.6,795.3 257.1,795.3 257.6,795.2 258.1,795.2 258.5,795.1 259.0,795.1 259.5,795.0 260.0,795.0 260.5,794.9 261.0,794.8 261.5,794.8 262.0,794.7 262.4,794.6 262.9,794.5 263.4,794.4 263.9,794.3 264.4,794.2 264.9,794.1 265.4,794.0 265.9,793.9 266.3,793.8 266.8,793.7 267.3,793.5 267.8,793.4 268.3,793.3 268.8,793.1 269.3,793.0 269.7,792.8 270.2,792.7 270.7,792.5 271.2,792.3 271.7,792.1 272.2,792.0 272.7,791.7 273.2,791.5 273.6,791.3 274.1,791.0 274.6,790.8 275.1,790.5 275.6,790.2 276.1,789.7 276.6,789.3 277.1,788.7 277.5,788.2 278.0,787.6 278.5,787.1 279.0,786.6 279.5,786.1 280.0,785.7 280.5,785.2 280.9,784.7 281.4,784.3 281.9,783.8 282.4,783.5 282.8,783.2 283.3,783.0 283.8,782.9 284.3,782.9 284.8,782.9 285.3,782.9 285.8,782.9 286.2,782.9 286.7,782.9 287.2,782.9 287.7,782.9 288.2,782.9 288.7,782.9 289.2,782.9 289.7,782.9 290.2,782.9 290.6,782.9 291.1,782.9 291.6,782.9 292.1,782.9 292.6,782.9 293.1,782.9 293.6,782.9 294.0,782.8 294.5,782.8 295.0,782.8 295.5,782.7 296.0,782.7 296.5,782.6 296.9,782.5 297.4,782.5 297.9,782.4 298.4,782.4 298.9,782.3 299.4,782.3 299.8,782.2 300.3,782.2 300.8,782.2 301.3,782.2 301.8,782.2 302.3,782.2 302.8,782.2 303.3,782.2 303.8,782.1 304.3,782.1 304.8,782.1 305.3,782.1 305.8,782.1 306.3,782.1 306.8,782.1 307.3,782.1 307.7,782.1 308.2,782.1 308.7,782.1 309.2,782.1 309.7,782.1 310.2,782.1 310.7,782.1 311.2,782.1 311.7,782.1 312.2,782.1 312.7,782.1 313.2,782.1 313.7,782.1 314.2,782.1 314.7,782.1 315.2,782.1 315.7,782.1 316.2,782.1 316.7,782.1 317.2,782.1 317.7,782.1 318.2,782.1 318.7,782.1 319.2,782.0 319.7,782.0 320.2,782.0 320.6,782.0 321.1,782.0 321.6,782.0 322.1,782.0 322.6,782.0 323.1,782.0 323.6,782.0 324.1,782.0 324.6,782.0 325.1,782.0 325.6,781.9 326.1,781.9 326.6,781.9 327.1,781.9 327.5,781.8 328.0,781.4 328.4,780.8 328.9,780.1 329.3,779.3 329.7,777.7 330.2,775.1 330.6,771.8 331.1,768.2 331.5,764.7 331.9,761.2 332.4,757.4 332.8,753.4 333.3,749.5 333.7,745.7 334.1,741.7 334.6,737.3 335.0,733.2 335.5,730.0 335.9,728.2 336.3,727.4 336.8,726.7 337.2,726.1 337.6,725.7 338.1,725.4 338.5,725.3 339.0,725.7 339.5,726.7 340.0,728.1 340.5,729.6 341.0,731.1 341.4,732.5 341.9,734.1 342.3,735.7 342.8,737.2 343.2,738.4 343.7,739.4 344.2,740.2 344.6,741.0 345.1,741.7 345.6,742.3 346.1,742.8 346.6,743.2 347.1,743.6 347.6,744.0 348.1,744.3 348.5,744.6 349.0,744.8 349.5,745.1 350.0,745.4 350.5,745.7 351.0,746.0 351.5,746.3 351.9,746.5 352.4,746.8 352.9,747.0 353.4,747.3 353.9,747.5 354.4,747.8 354.9,748.1 355.3,748.5 355.8,748.9 356.3,749.3 356.7,749.8 357.2,750.4 357.6,751.1 358.1,752.0 358.5,753.0 358.9,754.5 359.4,756.5 359.8,758.9 360.3,761.2 360.7,763.2 361.2,765.1 361.7,767.0 362.1,768.8 362.6,770.5 363.1,772.0 363.6,773.4 364.1,774.6 364.6,775.8 365.1,776.9 365.6,777.9 366.0,778.8 366.5,779.7 367.0,780.6 367.5,781.4 368.0,782.2 368.5,782.9 369.0,783.6 369.4,784.3 369.9,784.9 370.4,785.5 370.9,786.1 371.4,786.7 371.9,787.3 372.4,787.8 372.8,788.4 373.3,788.9 373.8,789.5 374.3,790.0 374.7,790.5 375.2,791.0 375.7,791.4 376.1,791.9 376.6,792.3 377.0,792.8 377.5,793.3 378.0,793.9 378.4,794.6 378.9,795.3 379.3,796.2 379.7,797.3 380.2,798.5 380.6,799.8 381.0,801.0" fill="none" stroke="#000" stroke-width="3" stroke-linejoin="round" stroke-linecap="butt" clip-path="url(#cb)"/>
<polyline points="428.0,802.0 428.5,801.1 429.0,800.3 429.5,799.5 430.0,798.8 430.5,798.1 431.0,797.3 431.4,796.6 431.9,795.7 432.4,794.8 432.9,793.8 433.4,792.6 433.9,791.2 434.4,789.7 434.9,787.7 435.3,784.9 435.8,781.5 436.3,777.5 436.8,773.1 437.2,768.4 437.7,763.4 438.2,757.7 438.6,750.9 439.1,743.3 439.6,735.4 440.0,727.3 440.5,719.6 440.9,712.4 441.4,705.1 441.9,697.8 442.3,690.4 442.8,683.1 443.2,675.8 443.7,668.2 444.1,660.6 444.6,653.0 445.1,645.3 445.5,637.7 445.9,632.2 447.1,628.6 448.6,640.3 449.1,648.1 449.6,655.4 450.7,661.5 452.2,645.3 452.7,640.3 453.2,635.7 453.7,633.7 454.2,633.9 454.7,634.6 455.2,635.7 455.7,637.2 456.2,643.5 456.7,652.4 457.2,659.4 457.7,665.5 458.2,670.2 458.7,674.2 459.2,677.6 459.6,680.1 460.0,682.5 460.5,684.7 460.9,686.4 461.3,687.7 461.8,688.8 462.3,689.8 462.8,690.5 463.3,690.8 463.8,689.7 464.3,687.2 464.8,684.8 465.3,683.7 465.8,683.8 466.2,684.2 466.7,684.8 467.1,685.7 467.5,690.6 467.8,697.7 468.2,703.9 468.6,709.6 469.1,714.8 469.5,719.6 469.9,724.3 470.4,728.9 470.8,733.2 471.3,736.8 471.7,739.4 472.2,741.5 472.6,743.6 473.1,745.4 473.5,747.0 474.0,748.2 474.4,749.0 474.9,749.3 475.4,749.0 475.8,748.3 476.3,747.3 476.8,746.0 477.3,744.5 477.7,743.0 478.2,741.6 482.6,724.0 485.9,732.8 486.4,733.8 486.8,734.9 487.3,735.9 487.8,736.8 488.3,737.6 488.7,738.1 489.2,738.3 489.7,738.2 490.2,737.8 490.6,737.3 491.1,736.8 491.6,736.1 492.1,735.4 492.6,734.9 493.0,734.4 493.5,734.0 494.0,733.9 494.5,734.4 495.0,735.8 495.4,737.9 495.9,740.5 496.4,743.2 496.9,746.0 497.3,749.0 497.8,752.7 498.2,756.7 498.7,760.5 499.1,763.5 499.5,766.1 500.0,768.5 500.4,770.7 500.9,772.4 501.3,773.4 501.8,774.0 502.3,774.5 502.8,775.0 503.3,775.4 503.8,775.7 504.3,776.0 504.8,776.2 505.3,776.4 505.8,776.6 506.3,776.8 506.8,777.0 507.3,777.1 507.8,777.3 508.2,777.4 508.7,777.6 509.2,777.7 509.7,777.8 510.2,777.9 510.7,778.0 511.2,778.1 511.7,778.2 512.2,778.3 512.6,778.4 513.1,778.5 513.6,778.6 514.1,778.7 514.6,778.8 515.1,778.9 515.6,779.0 516.1,779.1 516.5,779.2 517.0,779.2 517.5,779.3 518.0,779.4 518.5,779.5 519.0,779.6 519.5,779.7 520.0,779.7 520.4,779.8 520.9,779.9 521.4,780.0 521.9,780.0 522.4,780.1 522.9,780.2 523.4,780.2 523.8,780.3 524.3,780.4 524.8,780.4 525.3,780.5 525.8,780.6 526.3,780.6 526.8,780.7 527.3,780.8 527.7,780.8 528.2,780.9 528.7,780.9 529.2,781.0 529.7,781.1 530.2,781.1 530.7,781.2 531.1,781.2 531.6,781.3 532.1,781.4 532.6,781.4 533.1,781.5 533.6,781.5 534.1,781.6 534.6,781.6 535.0,781.7 535.5,781.7 536.0,781.8 536.5,781.9 537.0,781.9 537.5,782.0 538.0,782.0 538.4,782.1 538.9,782.1 539.4,782.1 539.9,782.2 540.4,782.2 540.9,782.3 541.4,782.3 541.9,782.4 542.3,782.4 542.8,782.4 543.3,782.5 543.8,782.5 544.3,782.5 544.8,782.6 545.3,782.6 545.8,782.6 546.3,782.6 546.8,782.6 547.3,782.7 547.8,782.7 548.3,782.7 548.8,782.7 549.3,782.7 549.8,782.8 550.3,782.8 550.8,782.8 551.3,782.9 551.8,782.9 552.3,783.0 552.7,783.2 553.2,783.4 553.7,783.7 554.2,784.0 554.6,784.4 555.1,784.7 555.6,785.1 556.0,785.5 556.5,785.9 557.0,786.2 557.5,786.5 557.9,786.7 558.4,786.9 558.9,787.0 559.4,787.2 559.9,787.3 560.3,787.4 560.8,787.5 561.3,787.6 561.8,787.7 562.3,787.8 562.8,787.8 563.3,787.9 563.8,788.0 564.2,788.1 564.7,788.1 565.2,788.2 565.7,788.3 566.2,788.4 566.7,788.5 567.2,788.5 567.6,788.6 568.1,788.7 568.6,788.8 569.1,788.8 569.6,788.9 570.1,789.0 570.6,789.1 571.0,789.1 571.5,789.2 572.0,789.3 572.5,789.3 573.0,789.4 573.5,789.5 574.0,789.5 574.4,789.6 574.9,789.7 575.4,789.7 575.9,789.8 576.4,789.9 576.9,789.9 577.4,790.0 577.9,790.1 578.3,790.2 578.8,790.2 579.3,790.3 579.8,790.4 580.3,790.4 580.8,790.5 581.3,790.6 581.8,790.7 582.2,790.7 582.7,790.8 583.2,790.9 583.7,790.9 584.2,791.0 584.7,791.0 585.2,791.1 585.6,791.1 586.1,791.1 586.6,791.2 587.1,791.2 587.6,791.2 588.1,791.2 588.6,791.2 589.1,791.2 589.6,791.2 590.1,791.3 590.5,791.3 591.0,791.3 591.5,791.3 592.0,791.3 592.5,791.3 593.0,791.3 593.5,791.3 594.0,791.3 594.5,791.3 595.0,791.3 595.5,791.3 596.0,791.3 596.5,791.3 596.9,791.4 597.4,791.4 597.9,791.4 598.4,791.4 598.9,791.4 599.4,791.4 599.9,791.4 600.4,791.4 600.9,791.4 601.4,791.4 601.9,791.4 602.3,791.4 602.8,791.4 603.3,791.4 603.8,791.4 604.3,791.4 604.8,791.4 605.3,791.4 605.8,791.4 606.3,791.2 606.8,791.0 607.3,790.8 607.8,790.6 608.3,790.3 608.8,790.0 609.3,789.8 609.8,789.6 610.3,789.4 610.8,789.3 611.3,789.3 611.8,789.2 612.2,789.2 612.7,789.1 613.2,789.1 613.7,789.1 614.2,789.1 614.7,789.1 615.1,789.0 615.6,789.0 616.1,789.0 616.6,789.0 617.1,789.0 617.6,789.0 618.0,789.0 618.5,788.9 619.0,788.9 619.5,788.9 620.0,788.9 620.5,788.8 620.9,788.8 621.4,788.8 621.9,788.7 622.4,788.6 622.8,788.5 623.3,788.3 623.8,788.0 624.2,787.8 624.7,787.5 625.2,787.2 625.6,786.9 626.1,786.6 626.6,786.3 627.0,786.0 627.5,785.6 627.9,785.2 628.4,784.8 628.8,784.5 629.3,784.2 629.7,783.9 630.2,783.8 630.7,783.7 631.2,783.6 631.7,783.6 632.2,783.5 632.7,783.5 633.2,783.5 633.7,783.5 634.2,783.4 634.7,783.4 635.2,783.4 635.7,783.3 636.2,783.3 636.7,783.2 637.2,783.1 637.7,782.9 638.2,782.6 638.7,782.2 639.2,781.7 639.7,781.0 640.2,780.4 640.7,779.7 641.2,778.9 641.7,778.2 642.2,777.5 642.7,776.9 643.2,776.3 643.6,775.5 644.1,774.7 644.6,773.9 645.0,773.1 645.5,772.4 646.0,771.8 646.4,771.4 646.9,771.3 647.4,771.3 647.9,771.4 648.4,771.5 648.8,771.6 649.3,771.7 649.8,771.9 650.3,772.0 650.8,772.2 651.3,772.5 651.7,772.8 652.2,773.2 652.7,773.7 653.2,774.2 653.7,774.7 654.1,775.3 654.6,775.8 655.1,776.4 655.6,776.9 656.1,777.4 656.6,777.9 657.0,778.3 657.5,778.6 658.0,778.9 658.5,779.1 659.0,779.4 659.5,779.6 660.0,779.8 660.4,779.9 660.9,780.1 661.4,780.3 661.9,780.4 662.4,780.6 662.9,780.7 663.4,780.9 663.9,781.0 664.3,781.1 664.8,781.3 665.3,781.4 665.8,781.6 666.3,781.7 666.8,781.8 667.3,782.0 667.8,782.1 668.2,782.3 668.7,782.4 669.2,782.5 669.7,782.6 670.2,782.8 670.7,782.9 671.2,783.0 671.6,783.1 672.1,783.3 672.6,783.4 673.1,783.5 673.6,783.6 674.1,783.8 674.6,783.9 675.1,784.0 675.5,784.1 676.0,784.2 676.5,784.4 677.0,784.5" fill="none" stroke="#000" stroke-width="3" stroke-linejoin="round" stroke-linecap="butt" clip-path="url(#cb)"/>
<polyline points="87.0,782.6 87.5,781.2 88.0,779.7 88.5,778.1 89.0,776.4 89.4,774.9 89.9,773.6 90.4,772.5 90.9,771.8 91.4,771.5 91.9,771.6 92.3,771.9 92.8,772.4 93.2,773.0 93.7,773.7 94.2,774.4 94.6,775.3 95.1,776.1 95.6,777.2 96.0,778.6 96.5,780.2 96.9,782.0 97.4,783.8 97.9,785.5 98.3,787.0 98.8,788.1 99.3,789.0 99.7,789.9 100.2,790.7 100.7,791.4 101.1,792.2 101.6,792.8 102.1,793.5 102.5,794.0 103.0,794.5 103.5,794.9 103.9,795.3 104.4,795.6 104.9,795.9 105.4,796.1 105.9,796.4 106.4,796.6 106.9,796.8 107.4,797.0 107.9,797.2 108.3,797.4 108.8,797.5 109.3,797.7 109.8,797.8 110.3,797.9 110.8,797.9 111.3,798.0 111.8,798.0 112.3,798.0 112.8,798.0 113.3,798.0 113.8,798.0 114.3,797.9 114.8,797.9 115.3,797.9 115.7,797.8 116.2,797.8 116.7,797.7 117.2,797.7 117.7,797.6 118.2,797.6 118.7,797.5 119.2,797.4 119.7,797.2 120.1,796.7 120.6,795.9 121.0,794.8 121.5,793.6 122.0,792.1 122.4,790.4 122.9,788.6 123.3,786.5 123.8,784.4 124.3,781.1 124.7,776.0 125.2,769.9 125.7,763.2 126.1,756.8 126.6,751.1 127.1,745.9 127.5,740.7 128.0,735.6 128.5,730.9 128.9,726.7 129.4,723.3 131.8,712.2 134.0,728.9 134.5,729.9 134.9,730.6 135.4,731.3 135.9,731.8 136.3,732.2 136.8,732.6 137.3,732.9 137.7,733.2 138.2,733.4 138.7,733.7 139.1,734.0 139.6,734.4 140.1,735.2 140.5,736.5 141.0,738.2 141.5,740.0 141.9,741.9 142.4,743.7 142.9,745.5 143.3,747.4 143.8,749.5 144.2,751.5 144.7,753.5 145.2,755.4 145.6,757.1 146.1,758.5 146.6,759.7 147.0,760.9 147.5,762.0 147.9,763.0 148.4,764.0 148.9,764.9 149.3,765.7 149.8,766.5 150.2,767.2 150.7,767.8 151.2,768.4 151.6,769.1 152.1,769.7 152.6,770.3 153.1,770.9 153.5,771.4 154.0,771.8 154.5,772.1 154.9,772.3 155.4,772.4 155.9,772.4 156.3,772.4 156.8,772.3 157.2,772.2 157.7,772.2 158.2,772.1 158.6,771.9 159.1,771.8 159.5,771.7 160.0,771.5 160.5,771.1 160.9,770.4 161.4,769.5 161.9,768.7 162.3,768.1 162.8,767.8 163.3,768.3 163.7,769.7 164.2,771.8 164.7,774.2 165.1,776.6 165.6,778.9 169.3,798.3 173.0,769.6 173.4,764.1 173.9,757.5 174.3,750.0 174.8,741.7 175.2,732.7 175.7,723.3 176.1,712.8 176.6,700.4 177.0,688.0 177.4,677.0 177.9,667.7 178.4,659.8 178.8,651.3 179.3,640.0 179.8,621.2 180.2,600.0 181.8,544.6 184.2,600.0 184.6,613.0 185.1,627.2 185.5,640.0 185.9,650.5 186.3,660.1 186.8,669.2 187.2,677.8 187.6,686.3 188.1,696.3 188.6,705.9 189.1,715.0 189.6,723.3 190.1,730.4 190.5,737.2 191.0,743.7 191.5,749.7 191.9,755.3 192.4,760.4 192.9,765.4 193.3,770.4 193.8,775.2 194.3,779.3 194.7,782.5 195.2,784.4 195.6,785.5 196.1,786.4 196.6,787.0 197.0,787.2 197.5,787.0 197.9,786.6 198.4,785.9 198.9,785.0 199.3,784.0 199.8,782.9 200.3,781.8 200.8,780.8 201.2,779.8 201.7,778.9 202.2,778.1 202.7,777.2 203.1,776.2 203.6,775.2 204.1,774.2 204.6,773.3 205.0,772.4 205.5,771.5 206.0,770.8 206.5,770.2 206.9,769.7 207.4,769.4 207.9,769.3 208.4,769.4 208.9,769.8 209.4,770.4 209.8,771.1 210.3,772.0 210.8,773.0 211.2,774.6 211.7,777.2 212.1,780.1 212.6,782.8 213.0,784.7 213.5,786.0 213.9,787.3 214.4,788.4 214.8,789.3 215.3,790.2 215.8,790.9 216.2,791.5 216.7,792.0 217.2,792.4 217.7,792.8 218.2,793.1 218.6,793.4 219.1,793.7 219.6,794.0 220.1,794.2 220.6,794.4 221.1,794.6 221.6,794.8 222.1,795.0 222.5,795.2 223.0,795.3 223.5,795.5 224.0,795.6 224.5,795.7 225.0,795.9 225.5,796.0 225.9,796.1 226.4,796.2 226.9,796.3 227.4,796.5 227.9,796.6 228.4,796.7 228.9,796.8 229.3,796.9 229.8,796.9 230.3,797.0 230.8,797.1 231.3,797.2 231.8,797.3 232.3,797.3 232.7,797.4 233.2,797.4 233.7,797.5 234.2,797.5 234.7,797.5 235.2,797.6 235.7,797.6 236.1,797.6 236.6,797.7 237.1,797.7 237.6,797.7 238.1,797.8 238.6,797.8 239.1,797.8 239.6,797.8 240.0,797.9 240.5,797.9 241.0,797.9 241.5,797.9 242.0,797.9 242.5,798.0 243.0,798.0 243.4,798.0 243.9,798.0 244.4,798.0 244.9,798.0 245.4,798.1 245.9,798.1 246.4,798.1 246.9,798.1 247.3,798.1 247.8,798.1 248.3,798.1 248.8,798.1 249.3,798.1 249.8,798.1 250.3,798.1 250.8,798.1 251.3,798.1 251.8,798.1 252.3,798.1 252.8,798.1 253.3,798.1 253.8,798.1 254.3,798.1 254.8,798.1 255.3,798.1 255.8,798.1 256.3,798.1 256.8,798.1 257.3,798.1 257.8,798.1 258.3,798.1 258.8,798.1 259.3,798.1 259.8,798.1 260.2,798.1 260.7,798.1 261.2,798.1 261.7,798.1 262.2,798.1 262.7,798.1 263.2,798.1 263.7,798.1 264.2,798.1 264.7,798.1 265.2,798.1 265.7,798.1 266.2,798.1 266.7,798.1 267.2,798.1 267.7,798.1 268.2,798.1 268.7,798.1 269.2,798.1 269.7,798.1 270.2,798.1 270.7,798.1 271.2,798.1 271.7,798.1 272.2,798.1 272.7,798.0 273.1,798.0 273.6,797.9 274.1,797.9 274.6,797.8 275.1,797.8 275.6,797.7 276.1,797.6 276.6,797.5 277.1,797.5 277.5,797.4 278.0,797.3 278.5,797.2 279.0,797.2 279.5,797.1 280.0,797.0 280.5,796.9 280.9,796.8 281.4,796.7 281.9,796.6 282.4,796.5 282.9,796.4 283.4,796.3 283.9,796.2 284.3,796.2 284.8,796.1 285.3,796.1 285.8,796.1 286.3,796.1 286.8,796.1 287.3,796.1 287.8,796.1 288.3,796.1 288.8,796.1 289.3,796.1 289.8,796.1 290.3,796.2 290.8,796.2 291.3,796.2 291.8,796.2 292.3,796.2 292.8,796.2 293.3,796.2 293.8,796.3 294.3,796.3 294.8,796.3 295.3,796.3 295.8,796.3 296.2,796.4 296.7,796.4 297.2,796.4 297.7,796.4 298.2,796.4 298.7,796.5 299.2,796.5 299.7,796.5 300.2,796.5 300.7,796.5 301.2,796.6 301.7,796.6 302.2,796.6 302.7,796.6 303.2,796.7 303.7,796.7 304.2,796.7 304.7,796.7 305.2,796.7 305.7,796.8 306.2,796.8 306.7,796.8 307.2,796.8 307.7,796.8 308.2,796.9 308.7,796.9 309.2,796.9 309.7,797.0 310.2,797.0 310.7,797.0 311.2,797.0 311.7,797.1 312.2,797.1 312.7,797.1 313.2,797.2 313.7,797.2 314.2,797.3 314.7,797.3 315.2,797.3 315.7,797.4 316.2,797.4 316.7,797.4 317.2,797.5 317.6,797.5 318.1,797.5 318.6,797.6 319.1,797.6 319.6,797.7 320.1,797.7 320.6,797.7 321.1,797.7 321.6,797.8 322.1,797.8 322.6,797.8 323.1,797.9 323.6,797.9 324.1,797.9 324.6,797.9 325.1,797.9 325.6,798.0 326.1,798.0 326.6,798.0 327.1,798.0 327.6,798.0 328.1,798.0 328.6,798.0 329.1,797.9 329.6,797.7 330.1,797.3 330.6,796.8 331.0,796.2 331.5,795.6 332.0,795.0 332.5,794.4 333.0,793.9 333.5,793.4 333.9,792.7 334.4,792.1 334.9,791.4 335.3,790.6 335.8,790.0 336.2,789.3 336.7,788.8 337.2,788.4 337.6,788.1 338.1,788.0 338.6,788.1 339.0,788.4 339.5,788.8 340.0,789.2 340.4,789.8 340.9,790.4 341.3,790.9 341.8,791.5 342.3,791.9 342.7,792.2 343.2,792.4 343.7,792.5 344.2,792.6 344.7,792.6 345.1,792.7 345.6,792.7 346.1,792.7 346.6,792.8 347.1,792.8 347.6,792.8 348.1,792.9 348.6,792.9 349.0,792.9 349.5,793.0 350.0,793.0 350.5,793.1 351.0,793.2 351.5,793.2 352.0,793.3 352.4,793.4 352.9,793.5 353.4,793.5 353.9,793.6 354.4,793.7 354.9,793.8 355.4,793.9 355.9,794.1 356.3,794.2 356.8,794.3 357.3,794.5 357.8,794.6 358.3,794.8 358.8,795.0 359.2,795.3 359.7,795.7 360.2,796.0 360.7,796.4 361.2,796.8 361.7,797.2 362.2,797.5 362.6,797.8 363.1,798.0 363.6,798.2 364.1,798.3 364.6,798.5 365.1,798.6 365.6,798.7 366.0,798.8 366.5,798.8 367.0,798.9 367.5,799.0 368.0,799.1 368.5,799.1 369.0,799.2 369.5,799.3 370.0,799.3 370.4,799.4 370.9,799.5 371.4,799.6 371.9,799.6 372.4,799.7 372.9,799.8 373.4,799.9 373.8,799.9 374.3,800.0 374.8,800.1 375.3,800.1 375.7,800.2 376.2,800.3 376.7,800.4 377.2,800.4 377.7,800.5 378.1,800.6 378.6,800.6 379.1,800.7 379.6,800.8 380.0,800.9 380.5,800.9 381.0,801.0" fill="none" stroke="#f00" stroke-width="3" stroke-linejoin="round" stroke-linecap="butt" clip-path="url(#cb)"/>
<polyline points="430.0,802.0 430.5,801.8 431.0,801.6 431.5,801.4 432.0,801.2 432.4,801.0 432.9,800.8 433.4,800.5 433.9,800.3 434.4,800.0 434.9,799.7 435.3,799.4 435.8,799.0 436.3,798.6 436.8,798.2 437.2,797.7 437.7,797.3 438.2,796.8 438.6,796.4 439.1,795.9 439.6,795.4 440.1,795.0 440.5,794.6 441.0,794.2 441.5,793.8 442.0,793.4 442.5,793.1 443.0,792.7 443.4,792.3 443.9,792.0 444.4,791.6 444.9,791.3 445.4,790.9 445.9,790.6 446.3,790.3 446.8,790.0 447.2,789.7 447.7,789.4 448.1,789.0 448.6,788.7 449.1,788.3 449.5,787.9 450.0,787.4 450.5,786.9 451.0,786.4 451.4,785.8 451.9,785.3 452.4,784.8 452.8,784.4 453.3,784.0 453.8,783.7 454.3,783.4 454.7,783.3 455.2,783.2 455.7,783.3 456.2,783.5 456.7,783.8 457.2,784.3 457.6,784.7 458.1,785.2 458.6,785.7 459.1,786.1 459.6,786.5 460.1,786.8 460.6,787.1 461.1,787.4 461.6,787.7 462.1,788.0 462.6,788.2 463.1,788.5 463.6,788.8 464.1,789.1 464.6,789.5 465.1,789.8 465.6,790.2 466.0,790.6 466.5,791.2 467.0,791.7 467.5,792.3 467.9,792.9 468.4,793.5 468.9,794.1 469.3,794.6 469.8,795.1 470.3,795.4 470.8,795.7 471.2,795.9 471.7,796.0 472.2,796.0 472.7,796.0 473.2,796.0 473.7,796.0 474.2,796.0 474.7,796.0 475.2,796.0 475.7,796.0 476.2,796.0 476.7,796.0 477.1,796.0 477.6,796.0 478.1,796.0 478.6,796.0 479.1,796.0 479.6,796.0 480.1,796.0 480.6,796.0 481.1,796.0 481.6,796.0 482.1,796.0 482.6,796.0 483.1,796.0 483.6,796.0 484.0,795.9 484.5,795.8 485.0,795.7 485.5,795.6 486.0,795.5 486.5,795.4 486.9,795.3 487.4,795.1 487.9,795.0 488.4,794.8 488.9,794.7 489.3,794.5 489.8,794.4 490.3,794.2 490.8,794.0 491.2,793.8 491.7,793.6 492.2,793.3 492.6,793.0 493.1,792.8 493.5,792.5 494.0,792.3 494.5,792.1 494.9,792.0 495.4,792.0 495.9,792.1 496.4,792.5 496.8,793.1 497.3,793.8 497.8,794.6 498.3,795.4 498.8,796.2 499.2,796.8 499.7,797.3 500.2,797.5 500.7,797.6 501.2,797.7 501.7,797.8 502.2,797.9 502.6,798.0 503.1,798.0 503.6,798.1 504.1,798.2 504.6,798.2 505.1,798.3 505.6,798.3 506.1,798.3 506.6,798.4 507.1,798.4 507.6,798.5 508.0,798.5 508.5,798.5 509.0,798.5 509.5,798.6 510.0,798.6 510.5,798.6 511.0,798.7 511.5,798.7 512.0,798.7 512.5,798.7 513.0,798.8 513.5,798.8 514.0,798.8 514.5,798.8 515.0,798.8 515.5,798.9 516.0,798.9 516.5,798.9 517.0,798.9 517.5,798.9 518.0,798.9 518.5,798.9 519.0,799.0 519.5,799.0 520.0,799.0 520.5,799.0 521.0,799.0 521.5,799.0 522.0,799.0 522.5,799.1 523.0,799.1 523.5,799.1 524.0,799.1 524.5,799.1 525.0,799.1 525.5,799.1 526.0,799.2 526.5,799.2 527.0,799.2 527.5,799.2 528.0,799.2 528.5,799.2 529.0,799.3 529.5,799.3 530.0,799.3 530.5,799.3 531.0,799.3 531.5,799.4 532.0,799.4 532.5,799.4 533.0,799.4 533.5,799.5 534.0,799.5 534.5,799.5 535.0,799.5 535.5,799.6 536.0,799.6 536.5,799.6 537.0,799.7 537.5,799.7 538.0,799.7 538.5,799.7 539.0,799.8 539.5,799.8 540.0,799.8 540.5,799.8 541.0,799.9 541.5,799.9 542.0,799.9 542.5,799.9 543.0,800.0 543.5,800.0 544.0,800.0 544.5,800.0 545.0,800.1 545.5,800.1 546.0,800.1 546.5,800.1 547.0,800.1 547.5,800.1 548.0,800.2 548.5,800.2 549.0,800.2 549.5,800.2 550.0,800.2 550.5,800.2 551.0,800.2 551.5,800.2 552.0,800.2 552.5,800.2 553.0,800.2 553.5,800.2 554.0,800.2 554.5,800.3 555.0,800.3 555.5,800.3 556.0,800.3 556.5,800.3 557.0,800.3 557.5,800.3 558.0,800.3 558.5,800.3 559.0,800.3 559.5,800.3 560.0,800.3 560.5,800.3 561.0,800.3 561.5,800.3 562.0,800.3 562.5,800.3 563.0,800.3 563.5,800.3 564.0,800.3 564.5,800.3 565.0,800.4 565.5,800.4 566.0,800.4 566.5,800.4 567.0,800.4 567.5,800.4 568.0,800.4 568.5,800.4 569.0,800.4 569.5,800.4 570.0,800.4 570.5,800.4 571.0,800.4 571.5,800.4 572.0,800.4 572.5,800.4 573.0,800.4 573.5,800.4 574.0,800.4 574.5,800.4 575.0,800.4 575.5,800.4 576.0,800.4 576.5,800.4 577.0,800.4 577.5,800.4 578.0,800.4 578.5,800.4 579.0,800.4 579.5,800.4 580.0,800.5 580.5,800.5 581.0,800.5 581.5,800.5 582.0,800.5 582.5,800.5 583.0,800.5 583.5,800.5 584.0,800.5 584.5,800.5 585.0,800.5 585.5,800.5 586.0,800.5 586.5,800.5 587.0,800.5 587.5,800.5 588.0,800.5 588.5,800.5 589.0,800.5 589.5,800.5 590.0,800.5 590.5,800.5 591.0,800.5 591.5,800.5 592.0,800.5 592.5,800.5 593.0,800.5 593.5,800.5 594.0,800.5 594.5,800.5 595.0,800.5 595.5,800.5 596.0,800.5 596.5,800.5 597.0,800.5 597.5,800.5 598.0,800.5 598.5,800.5 599.0,800.5 599.5,800.5 600.0,800.5 600.5,800.5 601.0,800.5 601.5,800.5 602.0,800.5 602.5,800.5 603.0,800.5 603.5,800.5 604.0,800.5 604.5,800.5 605.0,800.5 605.5,800.5 606.0,800.5 606.5,800.5 607.0,800.5 607.5,800.5 608.0,800.5 608.5,800.5 609.0,800.5 609.5,800.5 610.0,800.5 610.5,800.5 611.0,800.5 611.5,800.5 612.0,800.5 612.5,800.5 613.0,800.5 613.5,800.5 614.0,800.5 614.5,800.5 615.0,800.5 615.5,800.5 616.0,800.5 616.5,800.5 617.0,800.5 617.5,800.5 618.0,800.5 618.5,800.5 619.0,800.5 619.5,800.5 620.0,800.5 620.5,800.5 621.0,800.5 621.5,800.5 622.0,800.5 622.5,800.5 623.0,800.5 623.5,800.5 624.0,800.5 624.5,800.5 625.0,800.5 625.5,800.5 626.0,800.5 626.5,800.5 627.0,800.5 627.5,800.5 628.0,800.5 628.5,800.5 629.0,800.5 629.5,800.5 630.0,800.5 630.5,800.5 631.0,800.5 631.5,800.5 632.0,800.5 632.5,800.5 633.0,800.5 633.5,800.5 634.0,800.5 634.5,800.5 635.0,800.5 635.5,800.5 636.0,800.5 636.5,800.5 637.0,800.5 637.5,800.5 638.0,800.5 638.5,800.5 639.0,800.5 639.5,800.5 640.0,800.5 640.5,800.5 641.0,800.5 641.5,800.5 642.0,800.5 642.5,800.5 643.0,800.5 643.5,800.5 644.0,800.5 644.5,800.5 645.0,800.5 645.5,800.5 646.0,800.5 646.5,800.5 647.0,800.5 647.5,800.5 648.0,800.5 648.5,800.5 649.0,800.5 649.5,800.5 650.0,800.5 650.5,800.5 651.0,800.5 651.5,800.5 652.0,800.5 652.5,800.5 653.0,800.5 653.5,800.5 654.0,800.5 654.5,800.5 655.0,800.5 655.5,800.5 656.0,800.5 656.5,800.5 657.0,800.5 657.5,800.5 658.0,800.5 658.5,800.5 659.0,800.5 659.5,800.5 660.0,800.5 660.5,800.5 661.0,800.5 661.5,800.5 662.0,800.5 662.5,800.5 663.0,800.5 663.5,800.5 664.0,800.5 664.5,800.5 665.0,800.5 665.5,800.5 666.0,800.5 666.5,800.5 667.0,800.5 667.5,800.5 668.0,800.5 668.5,800.5 669.0,800.5 669.5,800.5 670.0,800.5 670.5,800.5 671.0,800.5 671.5,800.5 672.0,800.5 672.5,800.5 673.0,800.5 673.5,800.5 674.0,800.5 674.5,800.5 675.0,800.5 675.5,800.5 676.0,800.5 676.5,800.5 677.0,800.5" fill="none" stroke="#f00" stroke-width="3" stroke-linejoin="round" stroke-linecap="butt" clip-path="url(#cb)"/>
<polyline points="87.0,797.4 87.5,796.9 88.0,796.4 88.5,795.9 89.0,795.3 89.4,794.8 89.9,794.4 90.4,794.0 90.9,793.8 91.4,793.7 91.9,793.8 92.3,794.0 92.8,794.4 93.3,794.9 93.7,795.4 94.2,795.9 94.7,796.5 95.1,797.0 95.6,797.5 96.1,797.9 96.5,798.2 97.0,798.3 97.5,798.3 98.0,798.4 98.5,798.4 99.0,798.4 99.5,798.5 100.0,798.5 100.5,798.5 101.0,798.6 101.5,798.6 102.0,798.6 102.5,798.6 103.0,798.7 103.5,798.7 104.0,798.7 104.5,798.7 105.0,798.7 105.5,798.8 106.0,798.8 106.5,798.8 107.0,798.8 107.5,798.8 108.0,798.8 108.5,798.9 109.0,798.9 109.5,798.9 110.0,798.9 110.5,798.9 111.0,798.9 111.5,798.9 112.0,798.9 112.5,798.9 113.0,799.0 113.5,799.0 114.0,799.0 114.5,799.0 115.0,799.0 115.5,799.0 116.0,799.0 116.5,799.0 117.0,799.0 117.5,799.0 118.0,799.0 118.5,799.0 119.0,799.0 119.5,799.0 120.0,799.0 120.5,799.0 121.0,799.0 121.5,798.9 122.0,798.9 122.5,798.8 123.0,798.7 123.5,798.6 124.0,798.4 124.5,798.3 124.9,798.2 125.4,798.0 125.9,797.8 126.4,797.7 126.9,797.5 127.4,797.3 127.9,797.1 128.4,796.9 128.9,796.7 129.4,796.5 129.8,796.2 130.3,795.8 130.8,795.4 131.2,795.0 131.7,794.7 132.1,794.6 132.6,794.6 133.1,794.7 133.6,794.9 134.1,795.1 134.6,795.3 135.1,795.5 135.6,795.8 136.1,796.1 136.6,796.3 137.1,796.6 137.6,796.8 138.1,797.0 138.6,797.2 139.1,797.3 139.6,797.4 140.1,797.4 140.6,797.5 141.1,797.5 141.6,797.5 142.1,797.6 142.6,797.6 143.1,797.6 143.6,797.7 144.1,797.7 144.6,797.7 145.1,797.7 145.6,797.8 146.1,797.8 146.6,797.8 147.1,797.9 147.6,797.9 148.1,797.9 148.6,797.9 149.1,797.9 149.6,798.0 150.1,798.0 150.6,798.0 151.1,798.0 151.6,798.0 152.1,798.1 152.6,798.1 153.1,798.1 153.5,798.1 154.0,798.1 154.5,798.1 155.0,798.2 155.5,798.2 156.0,798.2 156.5,798.2 157.0,798.2 157.5,798.2 158.0,798.2 158.5,798.2 159.0,798.2 159.5,798.2 160.0,798.3 160.5,798.3 161.0,798.3 161.5,798.3 162.0,798.3 162.5,798.3 163.0,798.3 163.5,798.3 164.0,798.3 164.5,798.3 165.0,798.3 165.5,798.3 166.0,798.3 166.5,798.3 167.0,798.3 167.5,798.3 168.0,798.2 168.5,798.1 169.0,798.0 169.5,797.9 170.0,797.8 170.5,797.7 171.0,797.5 171.5,797.3 172.0,797.1 172.5,796.9 173.0,796.7 173.5,796.4 174.0,796.2 174.5,795.9 175.0,795.6 175.5,795.3 176.0,795.0 176.5,794.5 177.0,793.7 177.4,792.6 177.9,791.3 178.4,790.0 178.9,788.6 179.4,787.3 179.9,786.2 180.3,785.2 180.8,784.6 181.3,784.4 181.8,784.7 182.2,785.6 182.7,786.9 183.1,788.5 183.6,790.3 184.1,792.0 184.5,793.7 185.0,795.0 185.4,796.0 185.9,796.5 186.4,796.7 186.9,796.8 187.3,797.0 187.8,797.1 188.3,797.2 188.8,797.3 189.3,797.4 189.7,797.5 190.2,797.6 190.7,797.7 191.2,797.7 191.6,797.8 192.1,797.9 192.6,797.9 193.1,797.9 193.6,798.0 194.0,798.0 194.5,798.0 195.0,798.0 195.5,798.0 196.0,798.0 196.5,797.9 197.0,797.8 197.5,797.8 198.0,797.7 198.5,797.5 199.0,797.4 199.5,797.3 200.0,797.2 200.5,797.1 201.0,797.0 201.5,796.9 202.0,796.7 202.5,796.6 203.0,796.6 203.5,796.5 204.0,796.4 204.5,796.4 205.0,796.4 205.5,796.4 206.0,796.5 206.5,796.6 207.0,796.7 207.4,796.8 207.9,796.9 208.4,797.1 208.9,797.3 209.4,797.4 209.9,797.6 210.4,797.8 210.9,797.9 211.4,798.1 211.8,798.2 212.3,798.3 212.8,798.4 213.3,798.5 213.8,798.5 214.3,798.5 214.8,798.5 215.3,798.5 215.8,798.5 216.3,798.6 216.8,798.6 217.3,798.6 217.8,798.6 218.3,798.6 218.8,798.6 219.3,798.6 219.8,798.6 220.3,798.6 220.8,798.6 221.3,798.7 221.8,798.7 222.3,798.7 222.8,798.7 223.3,798.7 223.8,798.7 224.3,798.7 224.8,798.7 225.3,798.7 225.8,798.7 226.3,798.8 226.8,798.8 227.3,798.8 227.8,798.8 228.3,798.8 228.8,798.8 229.2,798.8 229.7,798.8 230.2,798.8 230.7,798.8 231.2,798.8 231.7,798.8 232.2,798.9 232.7,798.9 233.2,798.9 233.7,798.9 234.2,798.9 234.7,798.9 235.2,798.9 235.7,798.9 236.2,798.9 236.7,798.9 237.2,798.9 237.7,798.9 238.2,798.9 238.7,798.9 239.2,799.0 239.7,799.0 240.2,799.0 240.7,799.0 241.2,799.0 241.7,799.0 242.2,799.0 242.7,799.0 243.2,799.0 243.7,799.0 244.2,799.0 244.7,799.0 245.2,799.0 245.7,799.0 246.2,799.0 246.7,799.0 247.2,799.0 247.7,799.1 248.2,799.1 248.7,799.1 249.2,799.1 249.7,799.1 250.2,799.1 250.7,799.1 251.2,799.1 251.7,799.1 252.2,799.1 252.7,799.1 253.2,799.1 253.7,799.1 254.2,799.1 254.7,799.1 255.2,799.1 255.7,799.1 256.2,799.1 256.7,799.1 257.2,799.1 257.7,799.1 258.2,799.1 258.7,799.2 259.2,799.2 259.6,799.2 260.1,799.2 260.6,799.2 261.1,799.2 261.6,799.2 262.1,799.2 262.6,799.2 263.1,799.2 263.6,799.2 264.1,799.2 264.6,799.2 265.1,799.2 265.6,799.2 266.1,799.2 266.6,799.2 267.1,799.2 267.6,799.2 268.1,799.2 268.6,799.2 269.1,799.2 269.6,799.2 270.1,799.2 270.6,799.2 271.1,799.2 271.6,799.2 272.1,799.2 272.6,799.2 273.1,799.2 273.6,799.2 274.1,799.2 274.6,799.2 275.1,799.2 275.6,799.3 276.1,799.3 276.6,799.3 277.1,799.3 277.6,799.3 278.1,799.3 278.6,799.3 279.1,799.3 279.6,799.3 280.1,799.3 280.6,799.3 281.1,799.3 281.6,799.3 282.1,799.3 282.6,799.3 283.1,799.3 283.6,799.3 284.1,799.3 284.6,799.3 285.1,799.3 285.6,799.3 286.1,799.3 286.6,799.3 287.1,799.3 287.6,799.3 288.1,799.3 288.6,799.3 289.1,799.3 289.6,799.3 290.0,799.3 290.5,799.3 291.0,799.3 291.5,799.3 292.0,799.3 292.5,799.3 293.0,799.3 293.5,799.3 294.0,799.3 294.5,799.3 295.0,799.3 295.5,799.3 296.0,799.3 296.5,799.3 297.0,799.3 297.5,799.3 298.0,799.3 298.5,799.3 299.0,799.3 299.5,799.3 300.0,799.3 300.5,799.3 301.0,799.3 301.5,799.3 302.0,799.3 302.5,799.3 303.0,799.3 303.5,799.3 304.0,799.3 304.5,799.3 305.0,799.3 305.5,799.3 306.0,799.3 306.5,799.3 307.0,799.3 307.5,799.3 307.9,799.3 308.4,799.3 308.9,799.2 309.4,799.2 309.9,799.2 310.4,799.2 310.9,799.2 311.4,799.1 311.9,799.1 312.4,799.1 312.9,799.0 313.3,799.0 313.8,799.0 314.3,798.9 314.8,798.9 315.3,798.8 315.8,798.8 316.3,798.7 316.8,798.7 317.3,798.6 317.8,798.6 318.3,798.5 318.8,798.4 319.2,798.4 319.7,798.3 320.2,798.2 320.7,798.1 321.2,798.1 321.7,798.0 322.2,797.9 322.7,797.8 323.2,797.7 323.7,797.6 324.2,797.5 324.6,797.4 325.1,797.3 325.6,797.2 326.1,797.0 326.6,796.9 327.1,796.8 327.6,796.6 328.1,796.2 328.6,795.6 329.1,794.9 329.5,794.2 330.0,793.4 330.5,792.6 331.0,791.8 331.5,791.0 331.9,790.3 332.4,789.6 332.9,788.8 333.3,788.1 333.8,787.3 334.2,786.5 334.7,785.8 335.1,785.1 335.6,784.4 336.0,783.6 336.5,782.8 337.0,782.0 337.4,781.3 337.9,780.7 338.3,780.2 338.8,780.0 339.3,779.9 339.8,779.8 340.2,779.7 340.7,779.7 341.2,779.6 341.7,779.6 342.2,779.5 342.7,779.5 343.2,779.4 343.6,779.4 344.1,779.4 344.6,779.3 345.1,779.2 345.6,779.2 346.1,779.1 346.6,779.0 347.1,779.0 347.6,778.9 348.0,778.9 348.5,778.8 349.0,778.7 349.5,778.6 350.0,778.6 350.5,778.5 351.0,778.4 351.5,778.3 351.9,778.2 352.4,778.1 352.9,778.0 353.4,777.9 353.9,777.8 354.4,777.7 354.9,777.6 355.3,777.6 355.8,777.5 356.3,777.5 356.8,777.7 357.3,778.1 357.8,778.7 358.2,779.4 358.7,780.1 359.2,780.7 359.7,781.3 360.2,782.0 360.7,782.7 361.2,783.4 361.6,784.1 362.1,784.8 362.6,785.5 363.1,786.1 363.6,786.6 364.1,787.1 364.6,787.5 365.1,787.9 365.6,788.3 366.1,788.6 366.6,789.0 367.0,789.3 367.5,789.7 368.0,790.0 368.5,790.3 369.0,790.7 369.5,791.0 370.0,791.3 370.5,791.7 370.9,792.0 371.4,792.3 371.9,792.7 372.4,793.0 372.8,793.3 373.3,793.6 373.8,793.9 374.3,794.2 374.7,794.4 375.2,794.7 375.7,794.9 376.1,795.1 376.6,795.4 377.0,795.6 377.5,795.9 378.0,796.1 378.4,796.5 378.9,796.8 379.3,797.2 379.8,797.7 380.2,798.2 380.7,798.7 381.1,799.3 381.6,799.9 382.0,800.4" fill="none" stroke="#0f0" stroke-width="3" stroke-linejoin="round" stroke-linecap="butt" clip-path="url(#cb)"/>
<polyline points="432.0,802.0 432.5,801.6 433.0,801.3 433.4,801.0 433.9,800.5 434.4,800.0 434.9,799.2 435.4,797.9 435.9,796.3 436.4,794.4 436.8,792.2 437.3,789.7 437.8,787.0 438.3,784.1 438.8,781.0 439.3,777.4 439.7,772.9 440.2,767.5 440.7,761.6 441.2,755.2 441.6,748.4 442.1,741.6 442.5,735.0 443.0,727.8 443.4,720.0 443.9,711.4 444.3,702.1 444.7,690.0 445.1,680.7 446.9,672.6 448.6,683.7 450.2,696.8 452.2,683.7 452.7,680.5 453.2,677.4 453.7,676.1 454.2,676.5 454.7,677.5 455.2,679.0 455.7,680.7 456.2,682.7 456.7,685.5 457.2,689.1 457.7,693.8 458.1,701.7 458.5,708.7 459.0,711.3 459.4,713.5 459.9,715.3 460.4,716.7 460.9,717.7 461.3,718.3 461.8,718.5 462.3,718.3 462.7,717.9 463.2,717.2 463.7,716.6 464.2,715.9 464.6,715.5 465.1,715.3 465.5,715.6 466.0,716.6 466.4,718.0 466.8,719.8 467.3,721.8 467.7,724.0 468.1,727.5 468.6,732.4 469.1,737.5 469.5,741.6 470.0,744.9 470.4,747.9 470.9,750.8 471.4,753.3 471.9,755.6 472.3,757.5 472.8,759.1 473.2,760.3 473.6,761.5 474.1,762.5 474.5,763.2 474.9,763.5 475.4,763.3 475.9,762.8 476.4,762.0 476.9,761.0 477.3,759.8 477.8,758.5 478.3,757.2 478.8,755.9 479.3,754.7 483.1,743.8 485.9,752.5 486.4,753.6 486.9,754.8 487.4,755.8 487.9,756.9 488.3,757.8 488.8,758.7 489.3,759.4 489.8,759.9 490.3,760.2 490.8,760.4 491.3,760.5 491.8,760.6 492.3,760.7 492.7,760.8 493.2,760.8 493.7,760.9 494.2,761.1 494.7,761.3 495.2,762.0 495.6,763.4 496.1,765.3 496.6,767.6 497.1,770.1 497.5,772.4 498.0,774.5 498.4,776.5 498.9,778.6 499.3,780.7 499.8,782.3 500.2,783.2 500.7,783.6 501.2,783.9 501.7,784.2 502.2,784.4 502.7,784.6 503.2,784.7 503.7,784.9 504.2,785.0 504.7,785.1 505.2,785.3 505.7,785.4 506.2,785.5 506.7,785.7 507.1,785.8 507.6,785.9 508.1,786.0 508.6,786.1 509.0,786.3 509.5,786.4 510.0,786.5 510.5,786.6 511.0,786.8 511.5,786.9 512.0,787.0 512.5,787.2 513.0,787.3 513.5,787.5 514.0,787.6 514.5,787.8 515.0,787.9 515.5,788.1 516.0,788.2 516.4,788.3 516.9,788.5 517.4,788.6 517.9,788.8 518.4,788.9 518.9,789.0 519.4,789.2 519.9,789.3 520.4,789.4 520.9,789.6 521.4,789.7 521.9,789.8 522.4,789.9 522.9,790.0 523.4,790.1 523.8,790.2 524.3,790.4 524.8,790.5 525.3,790.6 525.8,790.7 526.3,790.8 526.8,790.9 527.3,791.0 527.7,791.1 528.2,791.2 528.7,791.3 529.2,791.4 529.7,791.5 530.2,791.6 530.7,791.6 531.1,791.7 531.6,791.8 532.1,791.9 532.6,792.0 533.1,792.1 533.6,792.2 534.1,792.3 534.6,792.4 535.0,792.4 535.5,792.5 536.0,792.6 536.5,792.7 537.0,792.8 537.5,792.9 538.0,792.9 538.4,793.0 538.9,793.1 539.4,793.2 539.9,793.3 540.4,793.3 540.9,793.4 541.4,793.5 541.9,793.6 542.3,793.7 542.8,793.7 543.3,793.8 543.8,793.9 544.3,793.9 544.8,794.0 545.3,794.1 545.7,794.2 546.2,794.2 546.7,794.3 547.2,794.4 547.7,794.4 548.2,794.5 548.7,794.6 549.2,794.6 549.6,794.7 550.1,794.8 550.6,794.8 551.1,794.9 551.6,795.0 552.1,795.0 552.6,795.1 553.0,795.2 553.5,795.2 554.0,795.3 554.5,795.4 555.0,795.4 555.5,795.5 556.0,795.6 556.5,795.6 556.9,795.7 557.4,795.8 557.9,795.8 558.4,795.9 558.9,796.0 559.4,796.0 559.9,796.1 560.3,796.1 560.8,796.2 561.3,796.3 561.8,796.3 562.3,796.4 562.8,796.4 563.3,796.4 563.8,796.5 564.2,796.5 564.7,796.5 565.2,796.6 565.7,796.6 566.2,796.6 566.7,796.6 567.2,796.7 567.7,796.7 568.2,796.7 568.7,796.7 569.2,796.7 569.7,796.8 570.2,796.8 570.7,796.8 571.2,796.8 571.7,796.8 572.2,796.9 572.7,796.9 573.2,796.9 573.7,796.9 574.2,796.9 574.6,796.9 575.1,796.9 575.6,797.0 576.1,797.0 576.6,797.0 577.1,797.0 577.6,797.0 578.1,797.0 578.6,797.0 579.1,797.0 579.6,797.1 580.1,797.1 580.6,797.1 581.1,797.1 581.6,797.1 582.1,797.1 582.6,797.1 583.1,797.1 583.6,797.1 584.1,797.1 584.6,797.2 585.1,797.2 585.6,797.2 586.1,797.2 586.6,797.2 587.1,797.2 587.6,797.2 588.1,797.2 588.6,797.2 589.1,797.2 589.6,797.2 590.1,797.3 590.6,797.3 591.1,797.3 591.5,797.3 592.0,797.3 592.5,797.3 593.0,797.3 593.5,797.3 594.0,797.3 594.5,797.4 595.0,797.4 595.5,797.4 596.0,797.4 596.5,797.4 597.0,797.4 597.5,797.4 598.0,797.4 598.5,797.5 599.0,797.5 599.5,797.5 600.0,797.5 600.5,797.5 601.0,797.5 601.5,797.5 602.0,797.6 602.5,797.6 603.0,797.6 603.5,797.6 604.0,797.6 604.5,797.7 605.0,797.7 605.5,797.7 606.0,797.7 606.5,797.7 607.0,797.8 607.5,797.8 608.0,797.8 608.5,797.8 609.0,797.8 609.5,797.9 610.0,797.9 610.5,797.9 611.0,797.9 611.5,797.9 612.0,798.0 612.5,798.0 613.0,798.0 613.5,798.0 614.0,798.0 614.5,798.1 615.0,798.1 615.5,798.1 616.0,798.1 616.5,798.1 617.0,798.2 617.5,798.2 618.0,798.2 618.5,798.2 619.0,798.2 619.5,798.3 620.0,798.3 620.5,798.3 621.0,798.3 621.5,798.3 622.0,798.4 622.5,798.4 623.0,798.4 623.5,798.4 624.0,798.4 624.5,798.4 625.0,798.5 625.5,798.5 626.0,798.5 626.5,798.5 627.0,798.5 627.5,798.5 628.0,798.6 628.5,798.6 629.0,798.6 629.5,798.6 630.0,798.6 630.5,798.6 631.0,798.6 631.5,798.6 632.0,798.6 632.5,798.7 633.0,798.7 633.5,798.7 634.0,798.7 634.5,798.7 635.0,798.7 635.5,798.7 636.0,798.7 636.5,798.7 637.0,798.7 637.5,798.7 638.0,798.8 638.5,798.8 639.0,798.8 639.5,798.8 640.0,798.8 640.5,798.8 641.0,798.8 641.5,798.8 642.0,798.8 642.5,798.8 643.0,798.8 643.5,798.8 644.0,798.9 644.5,798.9 645.0,798.9 645.5,798.9 646.0,798.9 646.5,798.9 647.0,798.9 647.5,798.9 648.0,798.9 648.5,798.9 649.0,798.9 649.5,798.9 650.0,798.9 650.5,799.0 651.0,799.0 651.5,799.0 652.0,799.0 652.5,799.0 653.0,799.0 653.5,799.0 654.0,799.0 654.5,799.0 655.0,799.0 655.5,799.0 656.0,799.0 656.5,799.0 657.0,799.0 657.5,799.0 658.0,799.0 658.5,799.1 659.0,799.1 659.5,799.1 660.0,799.1 660.5,799.1 661.0,799.1 661.5,799.1 662.0,799.1 662.5,799.1 663.0,799.1 663.5,799.1 664.0,799.1 664.5,799.1 665.0,799.1 665.5,799.1 666.0,799.1 666.5,799.2 667.0,799.2 667.5,799.2 668.0,799.2 668.5,799.2 669.0,799.2 669.5,799.2 670.0,799.2 670.5,799.2 671.0,799.2 671.5,799.2 672.0,799.2 672.5,799.2 673.0,799.2 673.5,799.2 674.0,799.3 674.5,799.3 675.0,799.3 675.5,799.3 676.0,799.3 676.5,799.3 677.0,799.3" fill="none" stroke="#0f0" stroke-width="3" stroke-linejoin="round" stroke-linecap="butt" clip-path="url(#cb)"/>
<polyline points="87.0,794.6 87.5,794.1 88.0,793.6 88.5,793.1 89.0,792.5 89.4,792.0 89.9,791.6 90.4,791.2 90.9,791.0 91.4,790.9 91.9,791.0 92.3,791.2 92.8,791.5 93.3,791.9 93.7,792.3 94.2,792.8 94.7,793.4 95.1,793.9 95.6,794.4 96.1,794.9 96.5,795.3 97.0,795.6 97.5,795.9 98.0,796.2 98.5,796.5 99.0,796.8 99.5,797.1 100.0,797.4 100.5,797.6 100.9,797.9 101.4,798.1 101.9,798.3 102.4,798.5 102.9,798.6 103.4,798.8 103.9,798.9 104.4,798.9 104.9,798.9 105.4,798.9 105.9,799.0 106.4,799.0 106.8,799.0 107.3,799.0 107.8,799.1 108.3,799.1 108.8,799.1 109.3,799.1 109.8,799.1 110.3,799.1 110.7,799.2 111.2,799.2 111.7,799.2 112.2,799.2 112.7,799.2 113.2,799.2 113.7,799.2 114.2,799.2 114.7,799.2 115.1,799.3 115.6,799.3 116.1,799.3 116.6,799.3 117.1,799.3 117.6,799.3 118.1,799.3 118.6,799.3 119.0,799.3 119.5,799.3 120.0,799.3 120.5,799.3 121.0,799.3 121.5,799.3 121.9,799.1 122.4,798.9 122.9,798.7 123.3,798.4 123.8,798.0 124.3,797.6 124.7,797.2 125.2,796.8 125.7,796.4 126.1,796.0 126.6,795.6 127.1,795.2 127.5,794.6 128.0,794.0 128.4,793.4 128.9,792.8 129.4,792.2 129.8,791.7 130.3,791.3 130.7,791.0 131.2,790.9 131.7,791.0 132.1,791.2 132.6,791.4 133.1,791.8 133.6,792.1 134.0,792.5 134.5,792.9 135.0,793.3 135.4,793.5 135.9,793.7 136.4,793.8 136.9,793.9 137.4,794.0 137.9,794.1 138.4,794.1 138.9,794.2 139.4,794.2 139.9,794.3 140.4,794.4 140.9,794.5 141.4,794.6 141.9,794.8 142.3,795.0 142.8,795.3 143.3,795.7 143.8,796.0 144.2,796.4 144.7,796.7 145.2,797.0 145.6,797.2 146.1,797.4 146.6,797.5 147.1,797.6 147.6,797.7 148.1,797.8 148.6,797.9 149.0,798.0 149.5,798.1 150.0,798.2 150.5,798.3 151.0,798.3 151.5,798.4 152.0,798.5 152.5,798.6 153.0,798.6 153.5,798.7 154.0,798.7 154.4,798.8 154.9,798.9 155.4,798.9 155.9,799.0 156.4,799.0 156.9,799.1 157.4,799.1 157.9,799.1 158.4,799.2 158.9,799.2 159.4,799.2 159.9,799.2 160.3,799.3 160.8,799.3 161.3,799.3 161.8,799.3 162.3,799.3 162.8,799.3 163.3,799.3 163.8,799.3 164.3,799.3 164.8,799.3 165.2,799.3 165.7,799.3 166.2,799.2 166.7,799.2 167.2,799.2 167.7,799.2 168.2,799.2 168.7,799.1 169.2,799.1 169.6,799.1 170.1,799.0 170.6,799.0 171.1,799.0 171.6,798.9 172.1,798.9 172.6,798.9 173.1,798.8 173.6,798.8 174.0,798.7 174.5,798.7 175.0,798.6 175.5,798.6 176.0,798.5 176.5,798.4 177.0,798.3 177.4,798.0 177.9,797.8 178.4,797.6 178.9,797.3 179.4,797.0 179.9,796.8 180.3,796.7 180.8,796.5 181.3,796.5 181.8,796.6 182.2,796.7 182.7,797.0 183.2,797.3 183.6,797.7 184.1,798.0 184.6,798.4 185.0,798.8 185.5,799.1 186.0,799.4 186.4,799.5 186.9,799.6 187.4,799.6 187.9,799.6 188.4,799.6 188.9,799.6 189.4,799.6 189.9,799.6 190.4,799.6 190.8,799.6 191.3,799.6 191.8,799.6 192.3,799.6 192.8,799.6 193.3,799.6 193.8,799.6 194.3,799.5 194.8,799.5 195.3,799.5 195.8,799.5 196.3,799.5 196.8,799.5 197.3,799.5 197.7,799.5 198.2,799.5 198.7,799.5 199.2,799.5 199.7,799.5 200.2,799.5 200.7,799.5 201.2,799.4 201.7,799.4 202.2,799.4 202.7,799.4 203.2,799.4 203.7,799.4 204.2,799.4 204.6,799.4 205.1,799.4 205.6,799.4 206.1,799.4 206.6,799.4 207.1,799.4 207.6,799.4 208.1,799.3 208.6,799.3 209.1,799.3 209.6,799.3 210.1,799.3 210.6,799.3 211.1,799.3 211.5,799.3 212.0,799.3 212.5,799.3 213.0,799.3 213.5,799.3 214.0,799.3 214.5,799.3 215.0,799.3 215.5,799.3 216.0,799.3 216.5,799.3 217.0,799.3 217.5,799.3 218.0,799.3 218.5,799.3 219.0,799.3 219.5,799.3 220.0,799.3 220.5,799.3 221.0,799.3 221.5,799.3 222.0,799.3 222.5,799.3 223.0,799.3 223.5,799.3 224.0,799.3 224.5,799.3 225.0,799.3 225.5,799.3 226.0,799.3 226.5,799.3 227.0,799.3 227.5,799.3 228.0,799.3 228.5,799.3 229.0,799.3 229.5,799.3 230.0,799.3 230.5,799.3 231.0,799.3 231.5,799.3 232.0,799.3 232.5,799.3 233.0,799.3 233.5,799.3 234.0,799.3 234.5,799.3 235.0,799.3 235.5,799.3 236.0,799.3 236.5,799.3 237.0,799.3 237.5,799.3 238.0,799.3 238.5,799.3 239.0,799.3 239.5,799.3 240.0,799.3 240.5,799.3 241.0,799.3 241.5,799.3 242.0,799.3 242.5,799.3 243.0,799.3 243.5,799.3 244.0,799.3 244.5,799.4 245.0,799.4 245.5,799.4 246.0,799.4 246.5,799.4 247.0,799.4 247.5,799.4 248.0,799.4 248.5,799.4 249.0,799.4 249.5,799.4 250.0,799.4 250.5,799.4 251.0,799.4 251.5,799.4 252.0,799.4 252.5,799.4 253.0,799.4 253.5,799.4 254.0,799.4 254.5,799.4 255.0,799.4 255.5,799.4 256.0,799.4 256.5,799.4 257.0,799.4 257.5,799.4 258.0,799.4 258.5,799.4 259.0,799.4 259.5,799.4 260.0,799.4 260.5,799.4 261.0,799.4 261.5,799.4 262.0,799.4 262.5,799.4 263.0,799.4 263.5,799.4 264.0,799.4 264.5,799.4 265.0,799.4 265.5,799.4 266.0,799.4 266.5,799.4 267.0,799.4 267.5,799.4 268.0,799.4 268.5,799.4 269.0,799.4 269.5,799.4 270.0,799.4 270.5,799.5 271.0,799.5 271.5,799.5 272.0,799.5 272.5,799.5 273.0,799.5 273.5,799.5 274.0,799.5 274.5,799.5 275.0,799.5 275.5,799.5 276.0,799.5 276.5,799.5 277.0,799.5 277.5,799.5 278.0,799.5 278.5,799.5 279.0,799.5 279.5,799.5 280.0,799.5 280.5,799.5 281.0,799.5 281.5,799.5 282.0,799.5 282.5,799.5 283.0,799.5 283.5,799.5 284.0,799.5 284.5,799.5 285.0,799.5 285.5,799.5 286.0,799.5 286.5,799.5 287.0,799.5 287.5,799.5 288.0,799.5 288.5,799.5 289.0,799.5 289.5,799.5 290.0,799.5 290.5,799.5 291.0,799.5 291.5,799.5 292.0,799.5 292.5,799.5 293.0,799.6 293.5,799.6 294.0,799.6 294.5,799.6 295.0,799.6 295.5,799.6 296.0,799.6 296.5,799.6 297.0,799.6 297.5,799.6 298.0,799.6 298.5,799.6 299.0,799.6 299.5,799.6 300.0,799.6 300.5,799.6 301.0,799.6 301.5,799.6 302.0,799.6 302.5,799.6 303.0,799.6 303.5,799.6 304.0,799.6 304.5,799.6 305.0,799.6 305.5,799.6 306.0,799.6 306.5,799.6 307.0,799.6 307.5,799.6 307.9,799.6 308.4,799.6 308.9,799.6 309.4,799.6 309.9,799.6 310.4,799.6 310.9,799.6 311.4,799.6 311.9,799.6 312.4,799.6 312.9,799.6 313.4,799.6 313.9,799.6 314.3,799.6 314.8,799.7 315.3,799.7 315.8,799.7 316.3,799.7 316.8,799.7 317.3,799.7 317.8,799.7 318.3,799.7 318.8,799.7 319.3,799.7 319.8,799.7 320.2,799.7 320.7,799.7 321.2,799.7 321.7,799.7 322.2,799.7 322.7,799.7 323.2,799.7 323.7,799.7 324.2,799.7 324.7,799.7 325.2,799.7 325.7,799.7 326.1,799.7 326.6,799.7 327.1,799.7 327.6,799.7 328.1,799.7 328.6,799.7 329.1,799.6 329.6,799.3 330.1,798.8 330.6,798.2 331.0,797.6 331.5,796.9 332.0,796.3 332.5,795.8 333.0,795.3 333.5,794.9 333.9,794.5 334.4,794.1 334.8,793.8 335.3,793.4 335.8,793.1 336.2,792.8 336.7,792.6 337.1,792.4 337.6,792.4 338.1,792.5 338.5,792.6 339.0,792.9 339.4,793.2 339.9,793.5 340.3,793.9 340.8,794.2 341.2,794.4 341.7,794.6 342.2,794.7 342.7,794.9 343.2,795.0 343.7,795.1 344.1,795.2 344.6,795.3 345.1,795.4 345.6,795.4 346.1,795.5 346.6,795.6 347.1,795.7 347.6,795.7 348.1,795.8 348.5,795.9 349.0,795.9 349.5,796.0 350.0,796.0 350.5,796.1 351.0,796.2 351.5,796.2 352.0,796.2 352.4,796.3 352.9,796.3 353.4,796.4 353.9,796.4 354.4,796.4 354.9,796.5 355.4,796.5 355.9,796.5 356.3,796.6 356.8,796.7 357.3,796.7 357.8,796.8 358.3,796.9 358.8,797.1 359.3,797.4 359.8,797.6 360.2,797.9 360.7,798.2 361.2,798.5 361.7,798.8 362.2,799.0 362.7,799.2 363.2,799.4 363.6,799.6 364.1,799.7 364.6,799.9 365.1,800.1 365.6,800.2 366.1,800.4 366.6,800.5 367.0,800.6 367.5,800.7 368.0,800.8 368.5,800.9 369.0,800.9 369.5,801.0 370.0,801.1 370.5,801.1 371.0,801.2 371.5,801.2 372.0,801.3 372.5,801.3 373.0,801.4 373.5,801.4 374.0,801.5 374.5,801.5 375.0,801.6 375.5,801.6 376.0,801.6 376.5,801.7 377.0,801.7 377.5,801.7 378.0,801.7 378.5,801.8 379.0,801.8 379.5,801.8 380.0,801.8 380.5,801.8 381.0,801.8 381.5,801.8 382.0,801.8 382.5,801.9 383.0,801.9 383.5,801.9 384.0,801.9 384.5,801.9 385.0,801.9 385.5,801.9 386.0,801.9 386.5,801.9 387.0,801.9 387.5,801.9 388.0,802.0 388.5,802.0 389.0,802.0 389.5,802.0 390.0,802.0 390.5,802.0 391.0,802.0 391.5,802.0 392.0,802.0 392.5,802.0 393.0,802.0 393.5,802.0 394.0,802.0 394.5,802.0 395.0,802.0 395.5,802.0 396.0,802.0 396.5,802.0 397.0,802.0 397.5,802.0 398.0,802.0 398.5,802.0 399.0,802.0 399.5,802.0 400.0,802.0 400.5,802.0 401.0,802.0 401.5,802.0 402.0,802.0 402.5,802.0 403.0,802.0 403.5,802.0 404.0,802.0 404.5,802.0 405.0,802.0 405.5,802.0 406.0,802.0 406.5,802.0 407.0,802.0 407.5,802.0 408.0,802.0 408.5,802.0 409.0,802.0 409.5,802.0 410.0,802.0 410.5,802.0 411.0,802.0 411.5,802.0 412.0,802.0 412.5,802.0 413.0,802.0 413.5,802.0 414.0,802.0 414.5,802.0 415.0,802.0 415.5,802.0 416.0,802.0 416.5,802.0 417.0,802.0 417.5,802.0 418.0,802.0 418.5,802.0 419.0,802.0 419.5,801.9 420.0,801.9 420.5,801.9 421.0,801.9 421.5,801.9 422.0,801.9 422.5,801.9 423.0,801.9 423.5,801.9 424.0,801.9 424.5,801.9 425.0,801.9 425.5,801.9 426.0,801.9 426.5,801.9 427.0,801.9 427.5,801.9 428.0,801.9 428.5,801.9 429.0,801.9 429.5,801.9 430.0,801.9 430.5,801.9 431.0,801.9 431.5,801.9 432.0,801.8 432.5,801.8 433.0,801.8 433.5,801.8 434.0,801.8 434.5,801.8 435.0,801.8 435.5,801.8 436.0,801.8 436.5,801.8 437.0,801.7 437.5,801.5 438.0,801.3 438.5,801.1 439.0,800.9 439.5,800.7 440.0,800.5 440.5,800.3 441.0,800.0 441.5,799.8 442.0,799.5 442.5,799.2 443.0,798.8 443.4,798.5 443.9,798.3 444.4,798.0 444.9,797.8 445.4,797.6 445.9,797.5 446.4,797.5 446.9,797.5 447.4,797.6 447.9,797.8 448.4,798.0 448.9,798.1 449.4,798.4 449.9,798.5 450.4,798.7 450.9,798.9 451.4,799.0 451.9,799.0 452.4,799.0 452.9,799.0 453.4,799.0 453.9,799.0 454.4,799.0 454.9,799.0 455.4,799.0 455.9,799.0 456.4,799.0 456.8,799.0 457.3,799.0 457.8,799.0 458.3,799.0 458.8,799.0 459.3,799.0 459.8,799.0 460.3,799.0 460.8,799.0 461.3,799.0 461.8,799.0 462.3,799.0 462.8,799.0 463.3,799.0 463.8,799.0 464.3,799.0 464.8,799.0 465.3,799.0 465.8,799.0 466.2,799.0 466.7,799.0 467.2,799.0 467.7,799.0 468.2,799.0 468.7,799.0 469.2,799.0 469.7,799.0 470.2,799.0 470.7,799.0 471.2,799.0 471.7,799.0 472.2,799.0 472.7,799.0 473.2,799.0 473.7,799.0 474.2,799.0 474.7,799.0 475.2,799.0 475.7,799.0 476.1,799.0 476.6,799.0 477.1,799.0 477.6,799.0 478.1,799.0 478.6,799.0 479.1,799.0 479.6,799.0 480.1,799.0 480.6,799.0 481.1,799.0 481.6,799.0 482.1,799.0 482.6,799.0 483.1,799.0 483.6,799.0 484.1,799.0 484.6,799.0 485.1,799.0 485.5,799.0 486.0,799.0 486.5,799.0 487.0,799.0 487.5,799.0 488.0,799.0 488.5,799.0 489.0,799.0 489.5,799.0 490.0,799.0 490.5,798.9 490.9,798.6 491.4,798.2 491.9,797.7 492.4,797.1 492.8,796.6 493.3,796.1 493.8,795.7 494.2,795.4 494.7,795.3 495.2,795.4 495.7,795.7 496.1,796.1 496.6,796.7 497.1,797.3 497.6,797.9 498.1,798.5 498.6,799.1 499.0,799.5 499.5,799.8 500.0,800.0 500.5,800.1 501.0,800.1 501.5,800.1 502.0,800.2 502.5,800.2 503.0,800.3 503.5,800.3 504.0,800.3 504.5,800.4 505.0,800.4 505.5,800.4 506.0,800.4 506.5,800.4 507.0,800.5 507.5,800.5 508.0,800.5 508.5,800.5 509.0,800.5 509.5,800.5 510.0,800.5 510.5,800.5 511.0,800.5 511.5,800.5 512.0,800.5 512.5,800.5 513.0,800.5 513.5,800.5 514.0,800.5 514.5,800.5 515.0,800.5 515.5,800.5 516.0,800.5 516.5,800.5 517.0,800.5 517.5,800.5 518.0,800.5 518.5,800.5 519.0,800.5 519.5,800.5 520.0,800.5 520.5,800.5 521.0,800.5 521.5,800.5 522.0,800.5 522.5,800.5 523.0,800.5 523.5,800.5 524.0,800.5 524.5,800.5 525.0,800.5 525.5,800.5 526.0,800.5 526.5,800.5 527.0,800.5 527.5,800.5 528.0,800.5 528.5,800.5 529.0,800.5 529.5,800.5 530.0,800.5 530.5,800.5 531.0,800.5 531.5,800.5 532.0,800.5 532.5,800.5 533.0,800.5 533.5,800.5 534.0,800.5 534.5,800.5 535.0,800.5 535.5,800.5 536.0,800.5 536.5,800.5 537.0,800.5 537.5,800.5 538.0,800.5 538.5,800.5 539.0,800.5 539.5,800.5 540.0,800.5 540.5,800.5 541.0,800.5 541.5,800.5 542.0,800.5 542.5,800.5 543.0,800.5 543.5,800.5 544.0,800.5 544.5,800.5 545.0,800.5 545.5,800.5 546.0,800.5 546.5,800.5 547.0,800.5 547.5,800.5 548.0,800.5 548.5,800.5 549.0,800.5 549.5,800.5 550.0,800.5 550.5,800.5 551.0,800.5 551.5,800.5 552.0,800.5 552.5,800.5 553.0,800.5 553.5,800.5 554.0,800.5 554.5,800.5 555.0,800.5 555.5,800.5 556.0,800.5 556.5,800.5 557.0,800.4 557.5,800.4 558.0,800.4 558.5,800.4 559.0,800.4 559.5,800.4 560.0,800.4 560.5,800.4 561.0,800.4 561.5,800.4 562.0,800.4 562.5,800.4 563.0,800.4 563.5,800.4 564.0,800.4 564.5,800.4 565.0,800.4 565.5,800.4 566.0,800.4 566.5,800.4 567.0,800.4 567.5,800.4 568.0,800.4 568.5,800.4 569.0,800.4 569.5,800.4 570.0,800.4 570.5,800.4 571.0,800.4 571.5,800.4 572.0,800.4 572.5,800.4 573.0,800.4 573.5,800.4 574.0,800.4 574.5,800.4 575.0,800.4 575.5,800.4 576.0,800.4 576.5,800.4 577.0,800.4 577.5,800.4 578.0,800.4 578.5,800.4 579.0,800.4 579.5,800.4 580.0,800.4 580.5,800.4 581.0,800.4 581.5,800.4 582.0,800.4 582.5,800.4 583.0,800.4 583.5,800.4 584.0,800.4 584.5,800.4 585.0,800.4 585.5,800.4 586.0,800.4 586.5,800.4 587.0,800.4 587.5,800.4 588.0,800.4 588.5,800.4 589.0,800.3 589.5,800.3 590.0,800.3 590.5,800.3 591.0,800.3 591.5,800.3 592.0,800.3 592.5,800.3 593.0,800.3 593.5,800.3 594.0,800.3 594.5,800.3 595.0,800.3 595.5,800.3 596.0,800.3 596.5,800.3 597.0,800.3 597.5,800.3 598.0,800.3 598.5,800.3 599.0,800.3 599.5,800.3 600.0,800.3 600.5,800.3 601.0,800.3 601.5,800.3 602.0,800.3 602.5,800.3 603.0,800.3 603.5,800.3 604.0,800.3 604.5,800.3 605.0,800.3 605.5,800.3 606.0,800.2 606.5,800.2 607.0,800.2 607.4,800.2 607.9,800.2 608.4,800.2 608.9,800.2 609.4,800.2 609.9,800.2 610.4,800.2 610.9,800.2 611.4,800.2 611.9,800.1 612.4,800.1 612.9,800.1 613.4,800.1 613.9,800.1 614.4,800.1 614.9,800.1 615.4,800.1 615.9,800.0 616.4,800.0 616.9,800.0 617.4,800.0 617.9,800.0 618.4,800.0 618.9,800.0 619.4,799.9 619.9,799.9 620.4,799.9 620.9,799.9 621.4,799.9 621.8,799.9 622.3,799.8 622.8,799.8 623.3,799.8 623.8,799.8 624.3,799.8 624.8,799.8 625.3,799.7 625.8,799.7 626.3,799.7 626.8,799.7 627.3,799.7 627.8,799.6 628.3,799.6 628.8,799.6 629.3,799.6 629.8,799.6 630.3,799.5 630.7,799.5 631.2,799.5 631.7,799.4 632.2,799.4 632.7,799.4 633.2,799.3 633.7,799.3 634.2,799.2 634.6,799.2 635.1,799.2 635.6,799.1 636.1,799.1 636.6,799.0 637.1,799.0 637.6,798.9 638.1,798.8 638.5,798.8 639.0,798.7 639.5,798.7 640.0,798.6 640.5,798.5 641.0,798.4 641.5,798.3 642.0,798.2 642.4,798.0 642.9,797.9 643.4,797.7 643.9,797.5 644.4,797.4 644.9,797.2 645.4,797.1 645.9,796.9 646.3,796.8 646.8,796.7 647.3,796.7 647.8,796.6 648.3,796.6 648.8,796.6 649.3,796.7 649.8,796.8 650.3,796.9 650.7,797.0 651.2,797.1 651.7,797.3 652.2,797.5 652.7,797.6 653.2,797.8 653.7,798.0 654.2,798.1 654.6,798.3 655.1,798.4 655.6,798.5 656.1,798.6 656.6,798.6 657.1,798.6 657.6,798.7 658.1,798.7 658.6,798.7 659.1,798.7 659.6,798.8 660.1,798.8 660.6,798.8 661.1,798.8 661.6,798.8 662.1,798.8 662.6,798.9 663.1,798.9 663.6,798.9 664.1,798.9 664.6,798.9 665.1,798.9 665.6,798.9 666.1,799.0 666.6,799.0 667.0,799.0 667.5,799.0 668.0,799.0 668.5,799.0 669.0,799.0 669.5,799.0 670.0,799.0 670.5,799.1 671.0,799.1 671.5,799.1 672.0,799.1 672.5,799.1 673.0,799.1 673.5,799.1 674.0,799.1 674.5,799.1 675.0,799.1 675.5,799.2 676.0,799.2 676.5,799.2 677.0,799.2" fill="none" stroke="#00f" stroke-width="3" stroke-linejoin="round" stroke-linecap="butt" clip-path="url(#cb)"/>
<text x="66.2" y="415.3" font-family="Liberation Serif" font-weight="bold" style="font-kerning:none" font-size="36" text-anchor="end" >0</text>
<text x="66.2" y="255.3" font-family="Liberation Serif" font-weight="bold" style="font-kerning:none" font-size="36" text-anchor="end" >6</text>
<text x="66.2" y="95.3" font-family="Liberation Serif" font-weight="bold" style="font-kerning:none" font-size="36" text-anchor="end" >12</text>
<text x="66.2" y="812.8" font-family="Liberation Serif" font-weight="bold" style="font-kerning:none" font-size="36" text-anchor="end" >0</text>
<text x="66.2" y="719.8" font-family="Liberation Serif" font-weight="bold" style="font-kerning:none" font-size="36" text-anchor="end" >7</text>
<text x="66.2" y="626.3" font-family="Liberation Serif" font-weight="bold" style="font-kerning:none" font-size="36" text-anchor="end" >14</text>
<text x="66.2" y="532.9" font-family="Liberation Serif" font-weight="bold" style="font-kerning:none" font-size="36" text-anchor="end" >21</text>
<text x="66.2" y="440.0" font-family="Liberation Serif" font-weight="bold" style="font-kerning:none" font-size="36" text-anchor="end" >28</text>
<text x="142.8" y="848" font-family="Liberation Serif" font-weight="bold" style="font-kerning:none" font-size="36" text-anchor="middle" >-4</text>
<text x="261.5" y="848" font-family="Liberation Serif" font-weight="bold" style="font-kerning:none" font-size="36" text-anchor="middle" >-2</text>
<text x="381.5" y="848" font-family="Liberation Serif" font-weight="bold" style="font-kerning:none" font-size="36" text-anchor="middle" >0</text>
<text x="499.3" y="848" font-family="Liberation Serif" font-weight="bold" style="font-kerning:none" font-size="36" text-anchor="middle" >2</text>
<text x="619.1" y="848" font-family="Liberation Serif" font-weight="bold" style="font-kerning:none" font-size="36" text-anchor="middle" >4</text>
<text x="291.3" y="880.5" font-family="Liberation Serif" font-weight="bold" style="font-kerning:none" font-size="36" text-anchor="start" >Energy(eV)</text>
<text x="0" y="0" font-family="Liberation Serif" font-weight="bold" style="font-kerning:none" font-size="36.2" text-anchor="middle" transform="translate(27.6,199.1) rotate(-90)">TDOS(States/eV)</text>
<text x="0" y="0" font-family="Liberation Serif" font-weight="bold" style="font-kerning:none" font-size="36.2" text-anchor="middle" transform="translate(27.6,596.7) rotate(-90)">TDOS(States/eV)</text>
<text x="183.3" y="69.7" font-family="Liberation Serif" font-weight="bold" style="font-kerning:none" font-size="35" text-anchor="start" >(a) PtTiGe</text>
<text x="192.8" y="469.3" font-family="Liberation Serif" font-weight="bold" style="font-kerning:none" font-size="35" text-anchor="start" >(b) PtTiPb</text>
<line x1="510.8" y1="49.9" x2="574.2" y2="49.9" stroke="#000" stroke-width="3.3" stroke-linecap="round"/>
<text x="579.8" y="58.9" font-family="Liberation Serif" font-weight="bold" style="font-kerning:none" font-size="27.5" text-anchor="start" >tot</text>
<line x1="510.8" y1="84.6" x2="574.2" y2="84.6" stroke="#f00" stroke-width="3.3" stroke-linecap="round"/>
<text x="579.8" y="93.6" font-family="Liberation Serif" font-weight="bold" style="font-kerning:none" font-size="27.5" text-anchor="start" >Pt</text>
<line x1="510.8" y1="119.4" x2="574.2" y2="119.4" stroke="#0f0" stroke-width="3.3" stroke-linecap="round"/>
<text x="579.8" y="128.4" font-family="Liberation Serif" font-weight="bold" style="font-kerning:none" font-size="27.5" text-anchor="start" >T<tspan dx="1.2">i</tspan></text>
<line x1="510.8" y1="154.0" x2="574.2" y2="154.0" stroke="#00f" stroke-width="3.3" stroke-linecap="round"/>
<text x="579.8" y="163.0" font-family="Liberation Serif" font-weight="bold" style="font-kerning:none" font-size="27.5" text-anchor="start" >Ge</text>
<line x1="510.8" y1="447.7" x2="574.2" y2="447.7" stroke="#000" stroke-width="3.3" stroke-linecap="round"/>
<text x="579.8" y="456.7" font-family="Liberation Serif" font-weight="bold" style="font-kerning:none" font-size="27.5" text-anchor="start" >tot</text>
<line x1="510.8" y1="482.4" x2="574.2" y2="482.4" stroke="#f00" stroke-width="3.3" stroke-linecap="round"/>
<text x="579.8" y="491.4" font-family="Liberation Serif" font-weight="bold" style="font-kerning:none" font-size="27.5" text-anchor="start" >Pt</text>
<line x1="510.8" y1="517.2" x2="574.2" y2="517.2" stroke="#0f0" stroke-width="3.3" stroke-linecap="round"/>
<text x="579.8" y="526.2" font-family="Liberation Serif" font-weight="bold" style="font-kerning:none" font-size="27.5" text-anchor="start" >T<tspan dx="1.2">i</tspan></text>
<line x1="510.8" y1="551.8" x2="574.2" y2="551.8" stroke="#00f" stroke-width="3.3" stroke-linecap="round"/>
<text x="579.8" y="560.8" font-family="Liberation Serif" font-weight="bold" style="font-kerning:none" font-size="27.5" text-anchor="start" >Pb</text>
</svg></body></html>
